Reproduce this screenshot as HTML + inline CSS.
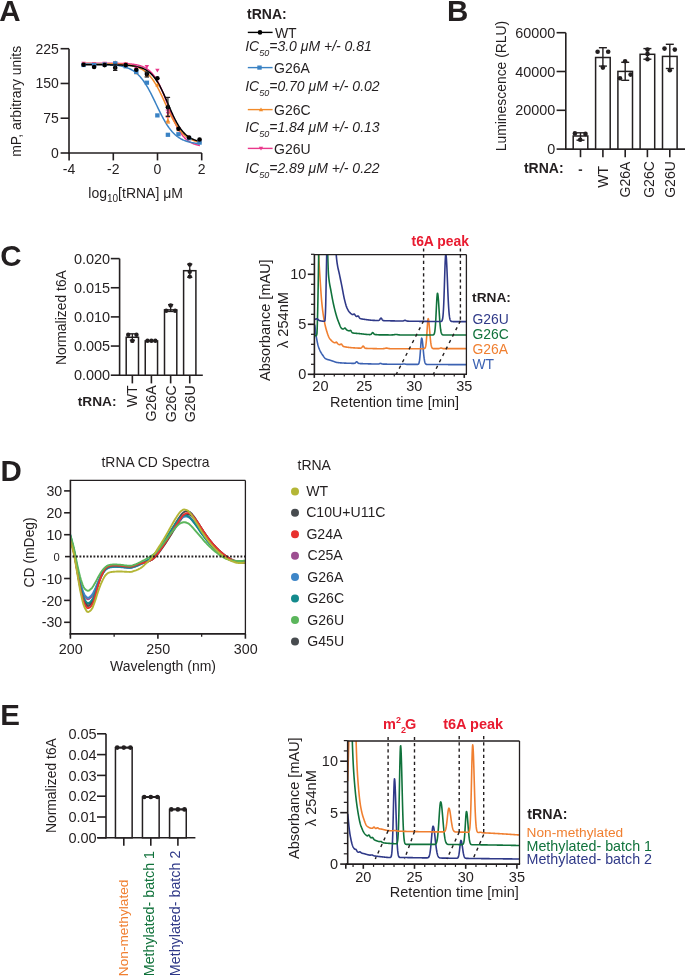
<!DOCTYPE html>
<html><head><meta charset="utf-8"><style>
html,body{margin:0;padding:0;background:#fff;}
svg{display:block;will-change:transform;font-family:"Liberation Sans", sans-serif;fill:#231f20;}
</style></head><body>
<svg width="685" height="976" viewBox="0 0 685 976">
<rect width="685" height="976" fill="#fff"/>
<text x="-0.70" y="20.70" font-size="29.5" font-weight="bold" >A</text>
<line x1="69.00" y1="48.70" x2="69.00" y2="153.80" stroke="#231f20" stroke-width="1.6" />
<line x1="68.20" y1="153.00" x2="201.80" y2="153.00" stroke="#231f20" stroke-width="1.6" />
<line x1="60.60" y1="153.00" x2="69.00" y2="153.00" stroke="#231f20" stroke-width="1.6" />
<text x="58.80" y="158.00" font-size="14" text-anchor="end" >0</text>
<line x1="60.60" y1="118.23" x2="69.00" y2="118.23" stroke="#231f20" stroke-width="1.6" />
<text x="58.80" y="123.23" font-size="14" text-anchor="end" >75</text>
<line x1="60.60" y1="83.47" x2="69.00" y2="83.47" stroke="#231f20" stroke-width="1.6" />
<text x="58.80" y="88.47" font-size="14" text-anchor="end" >150</text>
<line x1="60.60" y1="48.70" x2="69.00" y2="48.70" stroke="#231f20" stroke-width="1.6" />
<text x="58.80" y="53.70" font-size="14" text-anchor="end" >225</text>
<line x1="69.10" y1="153.00" x2="69.10" y2="160.40" stroke="#231f20" stroke-width="1.6" />
<text x="69.10" y="174.30" font-size="14" text-anchor="middle" >-4</text>
<line x1="113.30" y1="153.00" x2="113.30" y2="160.40" stroke="#231f20" stroke-width="1.6" />
<text x="113.30" y="174.30" font-size="14" text-anchor="middle" >-2</text>
<line x1="157.50" y1="153.00" x2="157.50" y2="160.40" stroke="#231f20" stroke-width="1.6" />
<text x="157.50" y="174.30" font-size="14" text-anchor="middle" >0</text>
<line x1="201.70" y1="153.00" x2="201.70" y2="160.40" stroke="#231f20" stroke-width="1.6" />
<text x="201.70" y="174.30" font-size="14" text-anchor="middle" >2</text>
<text transform="translate(20.60,101.30) rotate(-90)" font-size="13.9" text-anchor="middle" >mP, arbitrary units</text>
<text x="88.30" y="198.20" font-size="14" >log<tspan font-size="10" dy="3.4">10</tspan><tspan dy="-3.4">[tRNA] μM</tspan></text>
<path d="M81.92,63.20 L82.41,63.20 L82.90,63.20 L83.39,63.20 L83.88,63.20 L84.38,63.20 L84.87,63.20 L85.36,63.20 L85.85,63.20 L86.34,63.20 L86.84,63.20 L87.33,63.20 L87.82,63.20 L88.31,63.20 L88.80,63.20 L89.29,63.20 L89.79,63.20 L90.28,63.21 L90.77,63.21 L91.26,63.21 L91.75,63.21 L92.24,63.21 L92.74,63.21 L93.23,63.21 L93.72,63.21 L94.21,63.21 L94.70,63.21 L95.19,63.21 L95.69,63.21 L96.18,63.21 L96.67,63.21 L97.16,63.21 L97.65,63.21 L98.14,63.21 L98.64,63.21 L99.13,63.22 L99.62,63.22 L100.11,63.22 L100.60,63.22 L101.10,63.22 L101.59,63.22 L102.08,63.22 L102.57,63.22 L103.06,63.23 L103.55,63.23 L104.05,63.23 L104.54,63.23 L105.03,63.23 L105.52,63.23 L106.01,63.24 L106.50,63.24 L107.00,63.24 L107.49,63.24 L107.98,63.25 L108.47,63.25 L108.96,63.25 L109.45,63.26 L109.95,63.26 L110.44,63.26 L110.93,63.27 L111.42,63.27 L111.91,63.28 L112.40,63.28 L112.90,63.29 L113.39,63.29 L113.88,63.30 L114.37,63.30 L114.86,63.31 L115.36,63.32 L115.85,63.32 L116.34,63.33 L116.83,63.34 L117.32,63.35 L117.81,63.36 L118.31,63.37 L118.80,63.38 L119.29,63.39 L119.78,63.40 L120.27,63.42 L120.76,63.43 L121.26,63.45 L121.75,63.46 L122.24,63.48 L122.73,63.49 L123.22,63.51 L123.71,63.53 L124.21,63.55 L124.70,63.58 L125.19,63.60 L125.68,63.63 L126.17,63.65 L126.66,63.68 L127.16,63.71 L127.65,63.74 L128.14,63.78 L128.63,63.81 L129.12,63.85 L129.62,63.89 L130.11,63.94 L130.60,63.98 L131.09,64.03 L131.58,64.09 L132.07,64.14 L132.57,64.20 L133.06,64.26 L133.55,64.33 L134.04,64.40 L134.53,64.47 L135.02,64.55 L135.52,64.64 L136.01,64.73 L136.50,64.82 L136.99,64.92 L137.48,65.03 L137.97,65.14 L138.47,65.26 L138.96,65.39 L139.45,65.53 L139.94,65.67 L140.43,65.82 L140.93,65.98 L141.42,66.15 L141.91,66.33 L142.40,66.52 L142.89,66.73 L143.38,66.94 L143.88,67.17 L144.37,67.41 L144.86,67.66 L145.35,67.92 L145.84,68.21 L146.33,68.50 L146.83,68.82 L147.32,69.15 L147.81,69.50 L148.30,69.86 L148.79,70.25 L149.28,70.66 L149.78,71.09 L150.27,71.54 L150.76,72.01 L151.25,72.51 L151.74,73.03 L152.23,73.57 L152.73,74.15 L153.22,74.74 L153.71,75.37 L154.20,76.02 L154.69,76.71 L155.19,77.42 L155.68,78.16 L156.17,78.93 L156.66,79.73 L157.15,80.56 L157.64,81.42 L158.14,82.31 L158.63,83.23 L159.12,84.19 L159.61,85.17 L160.10,86.18 L160.59,87.22 L161.09,88.29 L161.58,89.38 L162.07,90.50 L162.56,91.64 L163.05,92.81 L163.54,94.00 L164.04,95.20 L164.53,96.43 L165.02,97.67 L165.51,98.92 L166.00,100.19 L166.49,101.46 L166.99,102.74 L167.48,104.03 L167.97,105.32 L168.46,106.60 L168.95,107.89 L169.45,109.17 L169.94,110.44 L170.43,111.70 L170.92,112.95 L171.41,114.19 L171.90,115.41 L172.40,116.61 L172.89,117.79 L173.38,118.95 L173.87,120.08 L174.36,121.19 L174.85,122.28 L175.35,123.33 L175.84,124.36 L176.33,125.37 L176.82,126.34 L177.31,127.28 L177.80,128.19 L178.30,129.07 L178.79,129.92 L179.28,130.74 L179.77,131.54 L180.26,132.30 L180.75,133.03 L181.25,133.73 L181.74,134.40 L182.23,135.04 L182.72,135.66 L183.21,136.25 L183.71,136.81 L184.20,137.35 L184.69,137.86 L185.18,138.35 L185.67,138.82 L186.16,139.26 L186.66,139.68 L187.15,140.08 L187.64,140.46 L188.13,140.82 L188.62,141.17 L189.11,141.49 L189.61,141.80 L190.10,142.09 L190.59,142.37 L191.08,142.63 L191.57,142.88 L192.06,143.11 L192.56,143.33 L193.05,143.54 L193.54,143.74 L194.03,143.93 L194.52,144.10 L195.01,144.27 L195.51,144.43 L196.00,144.58 L196.49,144.72 L196.98,144.85 L197.47,144.98 L197.97,145.09 L198.46,145.21 L198.95,145.31 L199.44,145.41 L199.93,145.50" fill="none" stroke="#e9388b" stroke-width="1.5" stroke-linejoin="round" />
<path d="M81.92,63.61 L82.41,63.61 L82.90,63.61 L83.39,63.61 L83.88,63.61 L84.38,63.61 L84.87,63.61 L85.36,63.61 L85.85,63.61 L86.34,63.61 L86.84,63.61 L87.33,63.62 L87.82,63.62 L88.31,63.62 L88.80,63.62 L89.29,63.62 L89.79,63.62 L90.28,63.62 L90.77,63.62 L91.26,63.62 L91.75,63.63 L92.24,63.63 L92.74,63.63 L93.23,63.63 L93.72,63.63 L94.21,63.63 L94.70,63.63 L95.19,63.64 L95.69,63.64 L96.18,63.64 L96.67,63.64 L97.16,63.65 L97.65,63.65 L98.14,63.65 L98.64,63.65 L99.13,63.66 L99.62,63.66 L100.11,63.66 L100.60,63.67 L101.10,63.67 L101.59,63.67 L102.08,63.68 L102.57,63.68 L103.06,63.69 L103.55,63.69 L104.05,63.70 L104.54,63.70 L105.03,63.71 L105.52,63.71 L106.01,63.72 L106.50,63.73 L107.00,63.73 L107.49,63.74 L107.98,63.75 L108.47,63.76 L108.96,63.77 L109.45,63.78 L109.95,63.78 L110.44,63.80 L110.93,63.81 L111.42,63.82 L111.91,63.83 L112.40,63.84 L112.90,63.86 L113.39,63.87 L113.88,63.88 L114.37,63.90 L114.86,63.92 L115.36,63.93 L115.85,63.95 L116.34,63.97 L116.83,63.99 L117.32,64.01 L117.81,64.04 L118.31,64.06 L118.80,64.09 L119.29,64.11 L119.78,64.14 L120.27,64.17 L120.76,64.20 L121.26,64.23 L121.75,64.27 L122.24,64.30 L122.73,64.34 L123.22,64.38 L123.71,64.43 L124.21,64.47 L124.70,64.52 L125.19,64.57 L125.68,64.62 L126.17,64.68 L126.66,64.74 L127.16,64.80 L127.65,64.86 L128.14,64.93 L128.63,65.01 L129.12,65.08 L129.62,65.16 L130.11,65.25 L130.60,65.34 L131.09,65.43 L131.58,65.53 L132.07,65.63 L132.57,65.74 L133.06,65.86 L133.55,65.98 L134.04,66.11 L134.53,66.24 L135.02,66.38 L135.52,66.53 L136.01,66.68 L136.50,66.85 L136.99,67.02 L137.48,67.20 L137.97,67.39 L138.47,67.59 L138.96,67.80 L139.45,68.02 L139.94,68.25 L140.43,68.49 L140.93,68.74 L141.42,69.01 L141.91,69.28 L142.40,69.57 L142.89,69.88 L143.38,70.20 L143.88,70.53 L144.37,70.88 L144.86,71.24 L145.35,71.62 L145.84,72.02 L146.33,72.43 L146.83,72.87 L147.32,73.32 L147.81,73.79 L148.30,74.27 L148.79,74.78 L149.28,75.31 L149.78,75.86 L150.27,76.43 L150.76,77.02 L151.25,77.63 L151.74,78.26 L152.23,78.92 L152.73,79.60 L153.22,80.30 L153.71,81.02 L154.20,81.77 L154.69,82.54 L155.19,83.33 L155.68,84.14 L156.17,84.97 L156.66,85.82 L157.15,86.70 L157.64,87.60 L158.14,88.51 L158.63,89.45 L159.12,90.40 L159.61,91.37 L160.10,92.35 L160.59,93.35 L161.09,94.37 L161.58,95.40 L162.07,96.44 L162.56,97.49 L163.05,98.55 L163.54,99.61 L164.04,100.68 L164.53,101.76 L165.02,102.84 L165.51,103.92 L166.00,105.00 L166.49,106.08 L166.99,107.16 L167.48,108.23 L167.97,109.29 L168.46,110.35 L168.95,111.40 L169.45,112.43 L169.94,113.46 L170.43,114.47 L170.92,115.47 L171.41,116.45 L171.90,117.42 L172.40,118.37 L172.89,119.30 L173.38,120.21 L173.87,121.10 L174.36,121.97 L174.85,122.82 L175.35,123.65 L175.84,124.45 L176.33,125.24 L176.82,126.00 L177.31,126.74 L177.80,127.46 L178.30,128.16 L178.79,128.83 L179.28,129.48 L179.77,130.11 L180.26,130.72 L180.75,131.30 L181.25,131.87 L181.74,132.41 L182.23,132.93 L182.72,133.44 L183.21,133.92 L183.71,134.39 L184.20,134.83 L184.69,135.26 L185.18,135.67 L185.67,136.06 L186.16,136.44 L186.66,136.80 L187.15,137.15 L187.64,137.48 L188.13,137.79 L188.62,138.09 L189.11,138.38 L189.61,138.65 L190.10,138.92 L190.59,139.17 L191.08,139.41 L191.57,139.63 L192.06,139.85 L192.56,140.06 L193.05,140.25 L193.54,140.44 L194.03,140.62 L194.52,140.79 L195.01,140.95 L195.51,141.11 L196.00,141.25 L196.49,141.39 L196.98,141.52 L197.47,141.65 L197.97,141.77 L198.46,141.88 L198.95,141.99 L199.44,142.09 L199.93,142.19" fill="none" stroke="#f28b2a" stroke-width="1.5" stroke-linejoin="round" />
<path d="M81.92,64.04 L82.41,64.04 L82.90,64.04 L83.39,64.04 L83.88,64.04 L84.38,64.05 L84.87,64.05 L85.36,64.05 L85.85,64.05 L86.34,64.06 L86.84,64.06 L87.33,64.06 L87.82,64.06 L88.31,64.07 L88.80,64.07 L89.29,64.08 L89.79,64.08 L90.28,64.08 L90.77,64.09 L91.26,64.09 L91.75,64.10 L92.24,64.10 L92.74,64.11 L93.23,64.11 L93.72,64.12 L94.21,64.13 L94.70,64.13 L95.19,64.14 L95.69,64.15 L96.18,64.15 L96.67,64.16 L97.16,64.17 L97.65,64.18 L98.14,64.19 L98.64,64.20 L99.13,64.21 L99.62,64.22 L100.11,64.23 L100.60,64.25 L101.10,64.26 L101.59,64.27 L102.08,64.29 L102.57,64.30 L103.06,64.32 L103.55,64.33 L104.05,64.35 L104.54,64.37 L105.03,64.39 L105.52,64.41 L106.01,64.43 L106.50,64.45 L107.00,64.48 L107.49,64.50 L107.98,64.53 L108.47,64.55 L108.96,64.58 L109.45,64.61 L109.95,64.65 L110.44,64.68 L110.93,64.72 L111.42,64.75 L111.91,64.79 L112.40,64.83 L112.90,64.88 L113.39,64.92 L113.88,64.97 L114.37,65.02 L114.86,65.07 L115.36,65.13 L115.85,65.19 L116.34,65.25 L116.83,65.31 L117.32,65.38 L117.81,65.45 L118.31,65.53 L118.80,65.61 L119.29,65.69 L119.78,65.78 L120.27,65.87 L120.76,65.96 L121.26,66.06 L121.75,66.17 L122.24,66.28 L122.73,66.40 L123.22,66.52 L123.71,66.65 L124.21,66.78 L124.70,66.92 L125.19,67.07 L125.68,67.22 L126.17,67.39 L126.66,67.56 L127.16,67.73 L127.65,67.92 L128.14,68.12 L128.63,68.32 L129.12,68.54 L129.62,68.76 L130.11,68.99 L130.60,69.24 L131.09,69.50 L131.58,69.76 L132.07,70.04 L132.57,70.34 L133.06,70.64 L133.55,70.96 L134.04,71.30 L134.53,71.64 L135.02,72.00 L135.52,72.38 L136.01,72.77 L136.50,73.18 L136.99,73.61 L137.48,74.05 L137.97,74.51 L138.47,74.99 L138.96,75.48 L139.45,75.99 L139.94,76.53 L140.43,77.08 L140.93,77.65 L141.42,78.24 L141.91,78.85 L142.40,79.48 L142.89,80.13 L143.38,80.80 L143.88,81.49 L144.37,82.21 L144.86,82.94 L145.35,83.69 L145.84,84.46 L146.33,85.25 L146.83,86.06 L147.32,86.89 L147.81,87.74 L148.30,88.61 L148.79,89.49 L149.28,90.39 L149.78,91.31 L150.27,92.24 L150.76,93.19 L151.25,94.15 L151.74,95.12 L152.23,96.10 L152.73,97.10 L153.22,98.10 L153.71,99.11 L154.20,100.13 L154.69,101.15 L155.19,102.18 L155.68,103.21 L156.17,104.24 L156.66,105.27 L157.15,106.30 L157.64,107.33 L158.14,108.35 L158.63,109.37 L159.12,110.38 L159.61,111.38 L160.10,112.37 L160.59,113.36 L161.09,114.33 L161.58,115.29 L162.07,116.24 L162.56,117.17 L163.05,118.09 L163.54,118.99 L164.04,119.87 L164.53,120.74 L165.02,121.59 L165.51,122.42 L166.00,123.23 L166.49,124.02 L166.99,124.79 L167.48,125.55 L167.97,126.28 L168.46,126.99 L168.95,127.68 L169.45,128.35 L169.94,129.00 L170.43,129.64 L170.92,130.25 L171.41,130.84 L171.90,131.41 L172.40,131.96 L172.89,132.49 L173.38,133.01 L173.87,133.50 L174.36,133.98 L174.85,134.44 L175.35,134.88 L175.84,135.31 L176.33,135.72 L176.82,136.11 L177.31,136.49 L177.80,136.85 L178.30,137.20 L178.79,137.53 L179.28,137.85 L179.77,138.16 L180.26,138.45 L180.75,138.73 L181.25,139.00 L181.74,139.25 L182.23,139.50 L182.72,139.74 L183.21,139.96 L183.71,140.17 L184.20,140.38 L184.69,140.58 L185.18,140.76 L185.67,140.94 L186.16,141.11 L186.66,141.27 L187.15,141.43 L187.64,141.58 L188.13,141.72 L188.62,141.85 L189.11,141.98 L189.61,142.10 L190.10,142.22 L190.59,142.33 L191.08,142.43 L191.57,142.54 L192.06,142.63 L192.56,142.72 L193.05,142.81 L193.54,142.89 L194.03,142.97 L194.52,143.05 L195.01,143.12 L195.51,143.19 L196.00,143.25 L196.49,143.31 L196.98,143.37 L197.47,143.43 L197.97,143.48 L198.46,143.53 L198.95,143.58 L199.44,143.62 L199.93,143.67" fill="none" stroke="#3a82c4" stroke-width="1.5" stroke-linejoin="round" />
<path d="M81.92,64.80 L82.41,64.80 L82.90,64.80 L83.39,64.80 L83.88,64.80 L84.38,64.80 L84.87,64.80 L85.36,64.80 L85.85,64.80 L86.34,64.80 L86.84,64.80 L87.33,64.80 L87.82,64.81 L88.31,64.81 L88.80,64.81 L89.29,64.81 L89.79,64.81 L90.28,64.81 L90.77,64.81 L91.26,64.81 L91.75,64.81 L92.24,64.81 L92.74,64.81 L93.23,64.81 L93.72,64.81 L94.21,64.81 L94.70,64.81 L95.19,64.81 L95.69,64.81 L96.18,64.81 L96.67,64.82 L97.16,64.82 L97.65,64.82 L98.14,64.82 L98.64,64.82 L99.13,64.82 L99.62,64.82 L100.11,64.82 L100.60,64.82 L101.10,64.83 L101.59,64.83 L102.08,64.83 L102.57,64.83 L103.06,64.83 L103.55,64.83 L104.05,64.84 L104.54,64.84 L105.03,64.84 L105.52,64.84 L106.01,64.85 L106.50,64.85 L107.00,64.85 L107.49,64.86 L107.98,64.86 L108.47,64.86 L108.96,64.87 L109.45,64.87 L109.95,64.87 L110.44,64.88 L110.93,64.88 L111.42,64.89 L111.91,64.89 L112.40,64.90 L112.90,64.91 L113.39,64.91 L113.88,64.92 L114.37,64.93 L114.86,64.93 L115.36,64.94 L115.85,64.95 L116.34,64.96 L116.83,64.97 L117.32,64.98 L117.81,64.99 L118.31,65.00 L118.80,65.01 L119.29,65.03 L119.78,65.04 L120.27,65.05 L120.76,65.07 L121.26,65.09 L121.75,65.10 L122.24,65.12 L122.73,65.14 L123.22,65.16 L123.71,65.18 L124.21,65.21 L124.70,65.23 L125.19,65.26 L125.68,65.29 L126.17,65.31 L126.66,65.35 L127.16,65.38 L127.65,65.41 L128.14,65.45 L128.63,65.49 L129.12,65.53 L129.62,65.58 L130.11,65.62 L130.60,65.67 L131.09,65.72 L131.58,65.78 L132.07,65.84 L132.57,65.90 L133.06,65.96 L133.55,66.03 L134.04,66.11 L134.53,66.19 L135.02,66.27 L135.52,66.36 L136.01,66.45 L136.50,66.55 L136.99,66.65 L137.48,66.76 L137.97,66.87 L138.47,67.00 L138.96,67.13 L139.45,67.26 L139.94,67.41 L140.43,67.56 L140.93,67.72 L141.42,67.89 L141.91,68.07 L142.40,68.26 L142.89,68.46 L143.38,68.67 L143.88,68.90 L144.37,69.13 L144.86,69.38 L145.35,69.64 L145.84,69.91 L146.33,70.20 L146.83,70.51 L147.32,70.83 L147.81,71.16 L148.30,71.51 L148.79,71.88 L149.28,72.27 L149.78,72.68 L150.27,73.11 L150.76,73.56 L151.25,74.03 L151.74,74.52 L152.23,75.03 L152.73,75.56 L153.22,76.12 L153.71,76.70 L154.20,77.31 L154.69,77.94 L155.19,78.60 L155.68,79.28 L156.17,79.99 L156.66,80.72 L157.15,81.48 L157.64,82.27 L158.14,83.08 L158.63,83.92 L159.12,84.79 L159.61,85.67 L160.10,86.59 L160.59,87.53 L161.09,88.49 L161.58,89.47 L162.07,90.48 L162.56,91.50 L163.05,92.55 L163.54,93.61 L164.04,94.69 L164.53,95.79 L165.02,96.90 L165.51,98.02 L166.00,99.15 L166.49,100.29 L166.99,101.43 L167.48,102.58 L167.97,103.73 L168.46,104.88 L168.95,106.03 L169.45,107.18 L169.94,108.32 L170.43,109.45 L170.92,110.58 L171.41,111.69 L171.90,112.79 L172.40,113.87 L172.89,114.94 L173.38,115.99 L173.87,117.02 L174.36,118.04 L174.85,119.03 L175.35,119.99 L175.84,120.94 L176.33,121.86 L176.82,122.76 L177.31,123.63 L177.80,124.47 L178.30,125.29 L178.79,126.09 L179.28,126.86 L179.77,127.60 L180.26,128.31 L180.75,129.00 L181.25,129.67 L181.74,130.31 L182.23,130.92 L182.72,131.51 L183.21,132.08 L183.71,132.62 L184.20,133.14 L184.69,133.63 L185.18,134.11 L185.67,134.56 L186.16,135.00 L186.66,135.41 L187.15,135.80 L187.64,136.18 L188.13,136.54 L188.62,136.88 L189.11,137.20 L189.61,137.51 L190.10,137.80 L190.59,138.08 L191.08,138.35 L191.57,138.60 L192.06,138.84 L192.56,139.06 L193.05,139.28 L193.54,139.48 L194.03,139.67 L194.52,139.86 L195.01,140.03 L195.51,140.19 L196.00,140.35 L196.49,140.50 L196.98,140.63 L197.47,140.77 L197.97,140.89 L198.46,141.01 L198.95,141.12 L199.44,141.22 L199.93,141.32" fill="none" stroke="#000000" stroke-width="1.5" stroke-linejoin="round" />
<line x1="167.92" y1="110.00" x2="167.92" y2="117.00" stroke="#e9388b" stroke-width="1.2" />
<line x1="165.72" y1="110.00" x2="170.12" y2="110.00" stroke="#e9388b" stroke-width="1.2" />
<line x1="165.72" y1="117.00" x2="170.12" y2="117.00" stroke="#e9388b" stroke-width="1.2" />
<line x1="167.92" y1="116.00" x2="167.92" y2="123.00" stroke="#f28b2a" stroke-width="1.2" />
<line x1="165.72" y1="116.00" x2="170.12" y2="116.00" stroke="#f28b2a" stroke-width="1.2" />
<line x1="165.72" y1="123.00" x2="170.12" y2="123.00" stroke="#f28b2a" stroke-width="1.2" />
<path d="M81.37,61.80 L85.77,61.80 L83.57,65.70 Z" fill="#e9388b"/>
<path d="M91.92,62.30 L96.32,62.30 L94.12,66.20 Z" fill="#e9388b"/>
<path d="M102.46,61.80 L106.86,61.80 L104.66,65.70 Z" fill="#e9388b"/>
<path d="M113.01,61.80 L117.41,61.80 L115.21,65.70 Z" fill="#e9388b"/>
<path d="M123.55,62.30 L127.95,62.30 L125.75,66.20 Z" fill="#e9388b"/>
<path d="M134.09,66.80 L138.49,66.80 L136.29,70.70 Z" fill="#e9388b"/>
<path d="M144.64,65.10 L149.04,65.10 L146.84,69.00 Z" fill="#e9388b"/>
<path d="M155.18,68.70 L159.58,68.70 L157.38,72.60 Z" fill="#e9388b"/>
<path d="M165.72,111.70 L170.12,111.70 L167.92,115.60 Z" fill="#e9388b"/>
<path d="M176.27,127.30 L180.67,127.30 L178.47,131.20 Z" fill="#e9388b"/>
<path d="M186.81,136.30 L191.21,136.30 L189.01,140.20 Z" fill="#e9388b"/>
<path d="M197.36,140.30 L201.76,140.30 L199.56,144.20 Z" fill="#e9388b"/>
<path d="M81.37,65.70 L85.77,65.70 L83.57,61.80 Z" fill="#f28b2a"/>
<path d="M91.92,65.70 L96.32,65.70 L94.12,61.80 Z" fill="#f28b2a"/>
<path d="M102.46,65.70 L106.86,65.70 L104.66,61.80 Z" fill="#f28b2a"/>
<path d="M113.01,64.20 L117.41,64.20 L115.21,60.30 Z" fill="#f28b2a"/>
<path d="M123.55,65.70 L127.95,65.70 L125.75,61.80 Z" fill="#f28b2a"/>
<path d="M134.09,74.20 L138.49,74.20 L136.29,70.30 Z" fill="#f28b2a"/>
<path d="M144.64,76.70 L149.04,76.70 L146.84,72.80 Z" fill="#f28b2a"/>
<path d="M155.18,86.40 L159.58,86.40 L157.38,82.50 Z" fill="#f28b2a"/>
<path d="M165.72,122.20 L170.12,122.20 L167.92,118.30 Z" fill="#f28b2a"/>
<path d="M176.27,131.20 L180.67,131.20 L178.47,127.30 Z" fill="#f28b2a"/>
<path d="M186.81,138.70 L191.21,138.70 L189.01,134.80 Z" fill="#f28b2a"/>
<path d="M197.36,142.70 L201.76,142.70 L199.56,138.80 Z" fill="#f28b2a"/>
<rect x="81.37" y="62.90" width="4.4" height="4.2" fill="#3a82c4"/>
<rect x="91.92" y="62.90" width="4.4" height="4.2" fill="#3a82c4"/>
<rect x="102.46" y="62.40" width="4.4" height="4.2" fill="#3a82c4"/>
<rect x="113.01" y="61.20" width="4.4" height="4.2" fill="#3a82c4"/>
<rect x="123.55" y="64.20" width="4.4" height="4.2" fill="#3a82c4"/>
<rect x="134.09" y="69.90" width="4.4" height="4.2" fill="#3a82c4"/>
<rect x="144.64" y="80.60" width="4.4" height="4.2" fill="#3a82c4"/>
<rect x="155.18" y="113.30" width="4.4" height="4.2" fill="#3a82c4"/>
<rect x="165.72" y="132.70" width="4.4" height="4.2" fill="#3a82c4"/>
<rect x="176.27" y="132.10" width="4.4" height="4.2" fill="#3a82c4"/>
<rect x="186.81" y="136.20" width="4.4" height="4.2" fill="#3a82c4"/>
<rect x="197.36" y="140.50" width="4.4" height="4.2" fill="#3a82c4"/>
<circle cx="83.57" cy="64.70" r="2.3" fill="#000000"/>
<circle cx="94.12" cy="67.00" r="2.3" fill="#000000"/>
<circle cx="104.66" cy="65.10" r="2.3" fill="#000000"/>
<circle cx="115.21" cy="67.80" r="2.3" fill="#000000"/>
<circle cx="125.75" cy="65.10" r="2.3" fill="#000000"/>
<circle cx="136.29" cy="69.80" r="2.3" fill="#000000"/>
<circle cx="146.84" cy="74.10" r="2.3" fill="#000000"/>
<circle cx="157.38" cy="78.20" r="2.3" fill="#000000"/>
<circle cx="167.92" cy="107.20" r="2.3" fill="#000000"/>
<circle cx="178.47" cy="128.70" r="2.3" fill="#000000"/>
<circle cx="189.01" cy="137.50" r="2.3" fill="#000000"/>
<circle cx="199.56" cy="139.50" r="2.3" fill="#000000"/>
<line x1="115.21" y1="64.30" x2="115.21" y2="70.40" stroke="#231f20" stroke-width="1.2" />
<line x1="113.01" y1="64.30" x2="117.41" y2="64.30" stroke="#231f20" stroke-width="1.2" />
<line x1="113.01" y1="70.40" x2="117.41" y2="70.40" stroke="#231f20" stroke-width="1.2" />
<line x1="146.84" y1="72.00" x2="146.84" y2="77.00" stroke="#231f20" stroke-width="1.2" />
<line x1="144.64" y1="72.00" x2="149.04" y2="72.00" stroke="#231f20" stroke-width="1.2" />
<line x1="144.64" y1="77.00" x2="149.04" y2="77.00" stroke="#231f20" stroke-width="1.2" />
<line x1="167.92" y1="97.40" x2="167.92" y2="116.40" stroke="#231f20" stroke-width="1.2" />
<line x1="165.72" y1="97.40" x2="170.12" y2="97.40" stroke="#231f20" stroke-width="1.2" />
<line x1="165.72" y1="116.40" x2="170.12" y2="116.40" stroke="#231f20" stroke-width="1.2" />
<text x="247.00" y="19.40" font-size="14" font-weight="bold" >tRNA:</text>
<line x1="247.80" y1="32.40" x2="272.60" y2="32.40" stroke="#000000" stroke-width="1.4" />
<circle cx="260.00" cy="32.40" r="2.3" fill="#000000"/>
<text x="274.90" y="37.80" font-size="14" >WT</text>
<line x1="247.80" y1="67.60" x2="272.60" y2="67.60" stroke="#3a82c4" stroke-width="1.4" />
<rect x="257.30" y="65.50" width="4.4" height="4.2" fill="#3a82c4"/>
<text x="274.00" y="73.00" font-size="14" >G26A</text>
<line x1="247.80" y1="109.60" x2="272.60" y2="109.60" stroke="#f28b2a" stroke-width="1.4" />
<path d="M258.80,111.30 L263.20,111.30 L261.00,107.40 Z" fill="#f28b2a"/>
<text x="274.00" y="114.90" font-size="14" >G26C</text>
<line x1="247.80" y1="148.40" x2="272.60" y2="148.40" stroke="#e9388b" stroke-width="1.4" />
<path d="M258.80,146.70 L263.20,146.70 L261.00,150.60 Z" fill="#e9388b"/>
<text x="274.00" y="153.80" font-size="14" >G26U</text>
<text x="245.20" y="50.70" font-size="14" font-style="italic" >IC<tspan font-size="9" dy="5">50</tspan><tspan dy="-5">=3.0 μM +/- 0.81</tspan></text>
<text x="245.20" y="90.50" font-size="14" font-style="italic" >IC<tspan font-size="9" dy="5">50</tspan><tspan dy="-5">=0.70 μM +/- 0.02</tspan></text>
<text x="245.20" y="131.90" font-size="14" font-style="italic" >IC<tspan font-size="9" dy="5">50</tspan><tspan dy="-5">=1.84 μM +/- 0.13</tspan></text>
<text x="245.20" y="172.80" font-size="14" font-style="italic" >IC<tspan font-size="9" dy="5">50</tspan><tspan dy="-5">=2.89 μM +/- 0.22</tspan></text>
<text x="447.10" y="20.70" font-size="29.5" font-weight="bold" >B</text>
<line x1="565.80" y1="32.70" x2="565.80" y2="149.90" stroke="#231f20" stroke-width="1.6" />
<line x1="565.00" y1="149.10" x2="685.00" y2="149.10" stroke="#231f20" stroke-width="1.6" />
<line x1="556.60" y1="149.10" x2="565.80" y2="149.10" stroke="#231f20" stroke-width="1.6" />
<text x="555.30" y="154.20" font-size="14.4" text-anchor="end" >0</text>
<line x1="556.60" y1="110.30" x2="565.80" y2="110.30" stroke="#231f20" stroke-width="1.6" />
<text x="555.30" y="115.40" font-size="14.4" text-anchor="end" >20000</text>
<line x1="556.60" y1="71.50" x2="565.80" y2="71.50" stroke="#231f20" stroke-width="1.6" />
<text x="555.30" y="76.60" font-size="14.4" text-anchor="end" >40000</text>
<line x1="556.60" y1="32.70" x2="565.80" y2="32.70" stroke="#231f20" stroke-width="1.6" />
<text x="555.30" y="37.80" font-size="14.4" text-anchor="end" >60000</text>
<text transform="translate(506.00,86.00) rotate(-90)" font-size="13.9" text-anchor="middle" >Luminescence (RLU)</text>
<rect x="573.20" y="136.00" width="14.60" height="13.10" fill="#fff" stroke="#231f20" stroke-width="1.5"/>
<line x1="580.50" y1="149.10" x2="580.50" y2="157.20" stroke="#231f20" stroke-width="1.6" />
<rect x="595.60" y="57.50" width="14.60" height="91.60" fill="#fff" stroke="#231f20" stroke-width="1.5"/>
<line x1="602.90" y1="149.10" x2="602.90" y2="157.20" stroke="#231f20" stroke-width="1.6" />
<rect x="617.90" y="71.40" width="14.60" height="77.70" fill="#fff" stroke="#231f20" stroke-width="1.5"/>
<line x1="625.20" y1="149.10" x2="625.20" y2="157.20" stroke="#231f20" stroke-width="1.6" />
<rect x="640.10" y="54.30" width="14.60" height="94.80" fill="#fff" stroke="#231f20" stroke-width="1.5"/>
<line x1="647.40" y1="149.10" x2="647.40" y2="157.20" stroke="#231f20" stroke-width="1.6" />
<rect x="662.50" y="56.40" width="14.60" height="92.70" fill="#fff" stroke="#231f20" stroke-width="1.5"/>
<line x1="669.80" y1="149.10" x2="669.80" y2="157.20" stroke="#231f20" stroke-width="1.6" />
<line x1="580.50" y1="132.80" x2="580.50" y2="140.20" stroke="#231f20" stroke-width="1.4" />
<line x1="576.50" y1="132.80" x2="584.50" y2="132.80" stroke="#231f20" stroke-width="1.4" />
<line x1="576.50" y1="140.20" x2="584.50" y2="140.20" stroke="#231f20" stroke-width="1.4" />
<line x1="602.90" y1="47.70" x2="602.90" y2="66.10" stroke="#231f20" stroke-width="1.4" />
<line x1="598.90" y1="47.70" x2="606.90" y2="47.70" stroke="#231f20" stroke-width="1.4" />
<line x1="598.90" y1="66.10" x2="606.90" y2="66.10" stroke="#231f20" stroke-width="1.4" />
<line x1="625.20" y1="62.30" x2="625.20" y2="80.30" stroke="#231f20" stroke-width="1.4" />
<line x1="621.20" y1="62.30" x2="629.20" y2="62.30" stroke="#231f20" stroke-width="1.4" />
<line x1="621.20" y1="80.30" x2="629.20" y2="80.30" stroke="#231f20" stroke-width="1.4" />
<line x1="647.40" y1="48.60" x2="647.40" y2="59.20" stroke="#231f20" stroke-width="1.4" />
<line x1="643.40" y1="48.60" x2="651.40" y2="48.60" stroke="#231f20" stroke-width="1.4" />
<line x1="643.40" y1="59.20" x2="651.40" y2="59.20" stroke="#231f20" stroke-width="1.4" />
<line x1="669.80" y1="44.30" x2="669.80" y2="68.50" stroke="#231f20" stroke-width="1.4" />
<line x1="665.80" y1="44.30" x2="673.80" y2="44.30" stroke="#231f20" stroke-width="1.4" />
<line x1="665.80" y1="68.50" x2="673.80" y2="68.50" stroke="#231f20" stroke-width="1.4" />
<circle cx="574.90" cy="133.40" r="2.3" fill="#231f20"/>
<circle cx="585.50" cy="133.90" r="2.3" fill="#231f20"/>
<circle cx="580.20" cy="139.80" r="2.3" fill="#231f20"/>
<circle cx="597.60" cy="51.80" r="2.3" fill="#231f20"/>
<circle cx="608.20" cy="51.80" r="2.3" fill="#231f20"/>
<circle cx="602.90" cy="67.60" r="2.3" fill="#231f20"/>
<circle cx="625.10" cy="61.30" r="2.3" fill="#231f20"/>
<circle cx="620.00" cy="78.20" r="2.3" fill="#231f20"/>
<circle cx="630.60" cy="74.60" r="2.3" fill="#231f20"/>
<circle cx="647.50" cy="49.60" r="2.3" fill="#231f20"/>
<circle cx="647.50" cy="53.90" r="2.3" fill="#231f20"/>
<circle cx="647.50" cy="59.20" r="2.3" fill="#231f20"/>
<circle cx="664.50" cy="48.60" r="2.3" fill="#231f20"/>
<circle cx="674.80" cy="49.60" r="2.3" fill="#231f20"/>
<circle cx="669.80" cy="70.20" r="2.3" fill="#231f20"/>
<text x="523.90" y="173.20" font-size="14" font-weight="bold" >tRNA:</text>
<rect x="578.7" y="169.4" width="3.4" height="1.5" fill="#231f20"/>
<text transform="translate(607.80,176.80) rotate(-90)" font-size="14" text-anchor="middle" >WT</text>
<text transform="translate(630.10,179.50) rotate(-90)" font-size="14" text-anchor="middle" >G26A</text>
<text transform="translate(654.10,179.50) rotate(-90)" font-size="14" text-anchor="middle" >G26C</text>
<text transform="translate(674.70,179.50) rotate(-90)" font-size="14" text-anchor="middle" >G26U</text>
<text x="0.20" y="265.50" font-size="29.5" font-weight="bold" >C</text>
<line x1="119.60" y1="258.60" x2="119.60" y2="376.00" stroke="#231f20" stroke-width="1.6" />
<line x1="118.80" y1="375.20" x2="202.80" y2="375.20" stroke="#231f20" stroke-width="1.6" />
<line x1="110.80" y1="375.20" x2="119.60" y2="375.20" stroke="#231f20" stroke-width="1.6" />
<text x="110.20" y="380.30" font-size="14.5" text-anchor="end" >0.000</text>
<line x1="110.80" y1="346.05" x2="119.60" y2="346.05" stroke="#231f20" stroke-width="1.6" />
<text x="110.20" y="351.15" font-size="14.5" text-anchor="end" >0.005</text>
<line x1="110.80" y1="316.90" x2="119.60" y2="316.90" stroke="#231f20" stroke-width="1.6" />
<text x="110.20" y="322.00" font-size="14.5" text-anchor="end" >0.010</text>
<line x1="110.80" y1="287.75" x2="119.60" y2="287.75" stroke="#231f20" stroke-width="1.6" />
<text x="110.20" y="292.85" font-size="14.5" text-anchor="end" >0.015</text>
<line x1="110.80" y1="258.60" x2="119.60" y2="258.60" stroke="#231f20" stroke-width="1.6" />
<text x="110.20" y="263.70" font-size="14.5" text-anchor="end" >0.020</text>
<text transform="translate(65.70,317.60) rotate(-90)" font-size="13.9" text-anchor="middle" >Normalized t6A</text>
<rect x="126.20" y="337.30" width="12.30" height="37.90" fill="#fff" stroke="#231f20" stroke-width="1.5"/>
<line x1="132.35" y1="375.20" x2="132.35" y2="383.40" stroke="#231f20" stroke-width="1.6" />
<rect x="145.25" y="340.90" width="12.30" height="34.30" fill="#fff" stroke="#231f20" stroke-width="1.5"/>
<line x1="151.40" y1="375.20" x2="151.40" y2="383.40" stroke="#231f20" stroke-width="1.6" />
<rect x="164.50" y="309.90" width="12.30" height="65.30" fill="#fff" stroke="#231f20" stroke-width="1.5"/>
<line x1="170.65" y1="375.20" x2="170.65" y2="383.40" stroke="#231f20" stroke-width="1.6" />
<rect x="183.60" y="270.70" width="12.30" height="104.50" fill="#fff" stroke="#231f20" stroke-width="1.5"/>
<line x1="189.75" y1="375.20" x2="189.75" y2="383.40" stroke="#231f20" stroke-width="1.6" />
<line x1="132.35" y1="333.80" x2="132.35" y2="340.20" stroke="#231f20" stroke-width="1.3" />
<line x1="129.75" y1="333.80" x2="134.95" y2="333.80" stroke="#231f20" stroke-width="1.3" />
<line x1="129.75" y1="340.20" x2="134.95" y2="340.20" stroke="#231f20" stroke-width="1.3" />
<line x1="170.65" y1="304.60" x2="170.65" y2="311.50" stroke="#231f20" stroke-width="1.3" />
<line x1="168.05" y1="304.60" x2="173.25" y2="304.60" stroke="#231f20" stroke-width="1.3" />
<line x1="168.05" y1="311.50" x2="173.25" y2="311.50" stroke="#231f20" stroke-width="1.3" />
<line x1="189.75" y1="264.10" x2="189.75" y2="277.30" stroke="#231f20" stroke-width="1.3" />
<line x1="187.15" y1="264.10" x2="192.35" y2="264.10" stroke="#231f20" stroke-width="1.3" />
<line x1="187.15" y1="277.30" x2="192.35" y2="277.30" stroke="#231f20" stroke-width="1.3" />
<circle cx="128.20" cy="334.80" r="2.2" fill="#231f20"/>
<circle cx="136.50" cy="334.80" r="2.2" fill="#231f20"/>
<circle cx="132.35" cy="340.90" r="2.2" fill="#231f20"/>
<circle cx="147.50" cy="340.80" r="2.2" fill="#231f20"/>
<circle cx="151.40" cy="340.80" r="2.2" fill="#231f20"/>
<circle cx="155.30" cy="340.80" r="2.2" fill="#231f20"/>
<circle cx="170.65" cy="305.40" r="2.2" fill="#231f20"/>
<circle cx="166.20" cy="310.80" r="2.2" fill="#231f20"/>
<circle cx="175.10" cy="310.80" r="2.2" fill="#231f20"/>
<circle cx="189.75" cy="264.60" r="2.2" fill="#231f20"/>
<circle cx="189.75" cy="271.70" r="2.2" fill="#231f20"/>
<circle cx="189.75" cy="276.60" r="2.2" fill="#231f20"/>
<text x="77.80" y="405.90" font-size="13.7" font-weight="bold" >tRNA:</text>
<text transform="translate(137.25,385.30) rotate(-90)" font-size="14.2" text-anchor="end" >WT</text>
<text transform="translate(156.30,385.30) rotate(-90)" font-size="14.2" text-anchor="end" >G26A</text>
<text transform="translate(175.55,385.30) rotate(-90)" font-size="14.2" text-anchor="end" >G26C</text>
<text transform="translate(194.65,385.30) rotate(-90)" font-size="14.2" text-anchor="end" >G26U</text>
<clipPath id="clipC"><rect x="314.4" y="254.6" width="152.0" height="119.6"/></clipPath>
<g clip-path="url(#clipC)">
<path d="M314.70,324.59 L314.95,326.14 L315.20,328.41 L315.45,330.56 L315.70,332.57 L315.95,334.40 L316.20,336.05 L316.45,337.56 L316.70,338.98 L316.95,340.33 L317.20,341.61 L317.45,342.81 L317.70,343.92 L317.95,344.95 L318.20,345.88 L318.45,346.72 L318.70,347.47 L318.95,348.15 L319.20,348.80 L319.45,349.41 L319.70,349.99 L319.95,350.53 L320.20,351.05 L320.45,351.54 L320.70,352.01 L320.95,352.46 L321.20,352.88 L321.45,353.29 L321.70,353.69 L321.95,354.08 L322.20,354.45 L322.45,354.82 L322.70,355.19 L322.95,355.55 L323.20,355.91 L323.45,356.26 L323.70,356.61 L323.95,356.94 L324.20,357.25 L324.45,357.55 L324.70,357.83 L324.95,358.09 L325.20,358.33 L325.45,358.53 L325.70,358.71 L325.95,358.87 L326.20,358.99 L326.45,359.11 L326.70,359.21 L326.95,359.30 L327.20,359.39 L327.45,359.47 L327.70,359.54 L327.95,359.61 L328.20,359.68 L328.45,359.75 L328.70,359.81 L328.95,359.88 L329.20,359.95 L329.45,360.02 L329.70,360.10 L329.95,360.18 L330.20,360.26 L330.45,360.34 L330.70,360.42 L330.95,360.51 L331.20,360.59 L331.45,360.67 L331.70,360.75 L331.95,360.83 L332.20,360.91 L332.45,360.99 L332.70,361.07 L332.95,361.15 L333.20,361.24 L333.45,361.32 L333.70,361.40 L333.95,361.49 L334.20,361.59 L334.45,361.68 L334.70,361.78 L334.95,361.88 L335.20,361.97 L335.45,362.06 L335.70,362.15 L335.95,362.23 L336.20,362.31 L336.45,362.37 L336.70,362.43 L336.95,362.47 L337.20,362.51 L337.45,362.54 L337.70,362.57 L337.95,362.60 L338.20,362.63 L338.45,362.66 L338.70,362.69 L338.95,362.71 L339.20,362.74 L339.45,362.76 L339.70,362.78 L339.95,362.81 L340.20,362.83 L340.45,362.85 L340.70,362.87 L340.95,362.89 L341.20,362.91 L341.45,362.92 L341.70,362.94 L341.95,362.96 L342.20,362.97 L342.45,362.99 L342.70,363.00 L342.95,363.02 L343.20,363.03 L343.45,363.05 L343.70,363.06 L343.95,363.07 L344.20,363.09 L344.45,363.10 L344.70,363.11 L344.95,363.12 L345.20,363.13 L345.45,363.14 L345.70,363.15 L345.95,363.16 L346.20,363.17 L346.45,363.18 L346.70,363.19 L346.95,363.20 L347.20,363.21 L347.45,363.22 L347.70,363.23 L347.95,363.24 L348.20,363.25 L348.45,363.25 L348.70,363.26 L348.95,363.27 L349.20,363.27 L349.45,363.28 L349.70,363.29 L349.95,363.29 L350.20,363.30 L350.45,363.31 L350.70,363.31 L350.95,363.32 L351.20,363.32 L351.45,363.33 L351.70,363.34 L351.95,363.34 L352.20,363.35 L352.45,363.35 L352.70,363.36 L352.95,363.37 L353.20,363.37 L353.45,363.38 L353.70,363.38 L353.95,363.37 L354.20,363.36 L354.45,363.33 L354.70,363.27 L354.95,363.16 L355.20,363.00 L355.45,362.78 L355.70,362.52 L355.95,362.25 L356.20,362.00 L356.45,361.83 L356.70,361.77 L356.95,361.84 L357.20,362.03 L357.45,362.29 L357.70,362.58 L357.95,362.86 L358.20,363.09 L358.45,363.27 L358.70,363.39 L358.95,363.46 L359.20,363.51 L359.45,363.54 L359.70,363.55 L359.95,363.57 L360.20,363.58 L360.45,363.59 L360.70,363.59 L360.95,363.60 L361.20,363.61 L361.45,363.62 L361.70,363.63 L361.95,363.63 L362.20,363.64 L362.45,363.65 L362.70,363.66 L362.95,363.67 L363.20,363.68 L363.45,363.68 L363.70,363.69 L363.95,363.70 L364.20,363.71 L364.45,363.72 L364.70,363.72 L364.95,363.73 L365.20,363.74 L365.45,363.75 L365.70,363.76 L365.95,363.76 L366.20,363.77 L366.45,363.78 L366.70,363.79 L366.95,363.80 L367.20,363.80 L367.45,363.81 L367.70,363.82 L367.95,363.83 L368.20,363.83 L368.45,363.84 L368.70,363.85 L368.95,363.86 L369.20,363.87 L369.45,363.87 L369.70,363.88 L369.95,363.89 L370.20,363.89 L370.45,363.90 L370.70,363.91 L370.95,363.92 L371.20,363.92 L371.45,363.93 L371.70,363.94 L371.95,363.94 L372.20,363.95 L372.45,363.96 L372.70,363.96 L372.95,363.97 L373.20,363.98 L373.45,363.98 L373.70,363.99 L373.95,363.99 L374.20,364.00 L374.45,364.00 L374.70,364.01 L374.95,364.02 L375.20,364.02 L375.45,364.03 L375.70,364.03 L375.95,364.04 L376.20,364.04 L376.45,364.05 L376.70,364.05 L376.95,364.05 L377.20,364.06 L377.45,364.06 L377.70,364.05 L377.95,364.05 L378.20,364.03 L378.45,363.99 L378.70,363.95 L378.95,363.88 L379.20,363.79 L379.45,363.69 L379.70,363.59 L379.95,363.50 L380.20,363.43 L380.45,363.41 L380.70,363.42 L380.95,363.48 L381.20,363.56 L381.45,363.67 L381.70,363.78 L381.95,363.88 L382.20,363.96 L382.45,364.02 L382.70,364.07 L382.95,364.10 L383.20,364.12 L383.45,364.13 L383.70,364.14 L383.95,364.14 L384.20,364.14 L384.45,364.15 L384.70,364.15 L384.95,364.15 L385.20,364.15 L385.45,364.16 L385.70,364.16 L385.95,364.16 L386.20,364.17 L386.45,364.17 L386.70,364.17 L386.95,364.17 L387.20,364.18 L387.45,364.18 L387.70,364.18 L387.95,364.18 L388.20,364.19 L388.45,364.19 L388.70,364.19 L388.95,364.19 L389.20,364.20 L389.45,364.20 L389.70,364.20 L389.95,364.20 L390.20,364.20 L390.45,364.21 L390.70,364.21 L390.95,364.21 L391.20,364.21 L391.45,364.22 L391.70,364.22 L391.95,364.22 L392.20,364.22 L392.45,364.23 L392.70,364.23 L392.95,364.23 L393.20,364.23 L393.45,364.24 L393.70,364.24 L393.95,364.24 L394.20,364.24 L394.45,364.25 L394.70,364.25 L394.95,364.25 L395.20,364.25 L395.45,364.25 L395.70,364.26 L395.95,364.26 L396.20,364.26 L396.45,364.26 L396.70,364.27 L396.95,364.27 L397.20,364.27 L397.45,364.27 L397.70,364.28 L397.95,364.28 L398.20,364.28 L398.45,364.28 L398.70,364.28 L398.95,364.29 L399.20,364.29 L399.45,364.29 L399.70,364.29 L399.95,364.30 L400.20,364.30 L400.45,364.30 L400.70,364.30 L400.95,364.30 L401.20,364.30 L401.45,364.29 L401.70,364.28 L401.95,364.26 L402.20,364.24 L402.45,364.20 L402.70,364.15 L402.95,364.09 L403.20,364.03 L403.45,363.98 L403.70,363.94 L403.95,363.93 L404.20,363.94 L404.45,363.97 L404.70,364.02 L404.95,364.08 L405.20,364.14 L405.45,364.20 L405.70,364.25 L405.95,364.29 L406.20,364.31 L406.45,364.33 L406.70,364.34 L406.95,364.35 L407.20,364.35 L407.45,364.36 L407.70,364.36 L407.95,364.36 L408.20,364.36 L408.45,364.37 L408.70,364.37 L408.95,364.37 L409.20,364.37 L409.45,364.37 L409.70,364.37 L409.95,364.38 L410.20,364.38 L410.45,364.38 L410.70,364.38 L410.95,364.38 L411.20,364.39 L411.45,364.39 L411.70,364.39 L411.95,364.39 L412.20,364.39 L412.45,364.40 L412.70,364.40 L412.95,364.40 L413.20,364.40 L413.45,364.40 L413.70,364.40 L413.95,364.41 L414.20,364.41 L414.45,364.41 L414.70,364.41 L414.95,364.41 L415.20,364.41 L415.45,364.42 L415.70,364.42 L415.95,364.42 L416.20,364.42 L416.45,364.42 L416.70,364.42 L416.95,364.42 L417.20,364.42 L417.45,364.41 L417.70,364.38 L417.95,364.33 L418.20,364.23 L418.45,364.03 L418.70,363.69 L418.95,363.11 L419.20,362.22 L419.45,360.88 L419.70,359.03 L419.95,356.60 L420.20,353.64 L420.45,350.26 L420.70,346.73 L420.95,343.39 L421.20,340.63 L421.45,338.80 L421.70,338.16 L421.95,338.55 L422.20,339.70 L422.45,341.51 L422.70,343.82 L422.95,346.44 L423.20,349.21 L423.45,351.93 L423.70,354.48 L423.95,356.74 L424.20,358.68 L424.45,360.25 L424.70,361.50 L424.95,362.44 L425.20,363.12 L425.45,363.60 L425.70,363.93 L425.95,364.15 L426.20,364.29 L426.45,364.37 L426.70,364.42 L426.95,364.45 L427.20,364.47 L427.45,364.48 L427.70,364.49 L427.95,364.49 L428.20,364.49 L428.45,364.50 L428.70,364.50 L428.95,364.50 L429.20,364.50 L429.45,364.50 L429.70,364.50 L429.95,364.50 L430.20,364.51 L430.45,364.51 L430.70,364.51 L430.95,364.51 L431.20,364.51 L431.45,364.51 L431.70,364.51 L431.95,364.51 L432.20,364.52 L432.45,364.52 L432.70,364.52 L432.95,364.52 L433.20,364.52 L433.45,364.52 L433.70,364.52 L433.95,364.52 L434.20,364.52 L434.45,364.53 L434.70,364.53 L434.95,364.53 L435.20,364.53 L435.45,364.53 L435.70,364.53 L435.95,364.53 L436.20,364.53 L436.45,364.53 L436.70,364.54 L436.95,364.54 L437.20,364.54 L437.45,364.54 L437.70,364.54 L437.95,364.54 L438.20,364.54 L438.45,364.54 L438.70,364.54 L438.95,364.54 L439.20,364.55 L439.45,364.55 L439.70,364.55 L439.95,364.55 L440.20,364.55 L440.45,364.55 L440.70,364.55 L440.95,364.55 L441.20,364.55 L441.45,364.55 L441.70,364.56 L441.95,364.56 L442.20,364.56 L442.45,364.56 L442.70,364.56 L442.95,364.56 L443.20,364.56 L443.45,364.56 L443.70,364.56 L443.95,364.56 L444.20,364.56 L444.45,364.56 L444.70,364.57 L444.95,364.57 L445.20,364.57 L445.45,364.57 L445.70,364.57 L445.95,364.57 L446.20,364.57 L446.45,364.57 L446.70,364.57 L446.95,364.57 L447.20,364.57 L447.45,364.57 L447.70,364.57 L447.95,364.57 L448.20,364.58 L448.45,364.58 L448.70,364.58 L448.95,364.58 L449.20,364.58 L449.45,364.58 L449.70,364.58 L449.95,364.58 L450.20,364.58 L450.45,364.58 L450.70,364.58 L450.95,364.58 L451.20,364.58 L451.45,364.58 L451.70,364.58 L451.95,364.58 L452.20,364.58 L452.45,364.59 L452.70,364.59 L452.95,364.59 L453.20,364.59 L453.45,364.59 L453.70,364.59 L453.95,364.59 L454.20,364.59 L454.45,364.59 L454.70,364.59 L454.95,364.59 L455.20,364.59 L455.45,364.59 L455.70,364.59 L455.95,364.59 L456.20,364.59 L456.45,364.59 L456.70,364.59 L456.95,364.59 L457.20,364.59 L457.45,364.59 L457.70,364.59 L457.95,364.59 L458.20,364.59 L458.45,364.60 L458.70,364.60 L458.95,364.60 L459.20,364.60 L459.45,364.60 L459.70,364.60 L459.95,364.60 L460.20,364.60 L460.45,364.60 L460.70,364.60 L460.95,364.60 L461.20,364.60 L461.45,364.60 L461.70,364.60 L461.95,364.60 L462.20,364.60 L462.45,364.60 L462.70,364.60 L462.95,364.60 L463.20,364.60 L463.45,364.60 L463.70,364.60 L463.95,364.60 L464.20,364.60 L464.45,364.60 L464.70,364.60 L464.95,364.60 L465.20,364.60 L465.45,364.60 L465.70,364.60 L465.95,364.60 L466.20,364.60 L466.45,364.60" fill="none" stroke="#3c62b2" stroke-width="1.6" stroke-linejoin="round" />
<path d="M317.00,206.93 L317.25,219.08 L317.50,233.55 L317.75,242.45 L318.00,247.15 L318.25,250.52 L318.50,253.82 L318.75,257.48 L319.00,261.52 L319.25,265.67 L319.50,269.78 L319.75,273.79 L320.00,277.71 L320.25,281.60 L320.50,285.48 L320.75,289.27 L321.00,292.90 L321.25,296.29 L321.50,299.37 L321.75,302.13 L322.00,304.63 L322.25,306.95 L322.50,309.11 L322.75,311.12 L323.00,313.00 L323.25,314.74 L323.50,316.37 L323.75,317.90 L324.00,319.37 L324.25,320.77 L324.50,322.10 L324.75,323.37 L325.00,324.57 L325.25,325.70 L325.50,326.76 L325.75,327.76 L326.00,328.69 L326.25,329.57 L326.50,330.43 L326.75,331.27 L327.00,332.08 L327.25,332.87 L327.50,333.64 L327.75,334.36 L328.00,335.06 L328.25,335.71 L328.50,336.32 L328.75,336.89 L329.00,337.41 L329.25,337.88 L329.50,338.29 L329.75,338.66 L330.00,338.99 L330.25,339.30 L330.50,339.60 L330.75,339.89 L331.00,340.16 L331.25,340.42 L331.50,340.67 L331.75,340.90 L332.00,341.13 L332.25,341.34 L332.50,341.55 L332.75,341.74 L333.00,341.92 L333.25,342.09 L333.50,342.26 L333.75,342.41 L334.00,342.55 L334.25,342.67 L334.50,342.76 L334.75,342.79 L335.00,342.77 L335.25,342.67 L335.50,342.51 L335.75,342.33 L336.00,342.18 L336.25,342.12 L336.50,342.19 L336.75,342.40 L337.00,342.71 L337.25,343.07 L337.50,343.43 L337.75,343.73 L338.00,343.97 L338.25,344.16 L338.50,344.30 L338.75,344.42 L339.00,344.52 L339.25,344.60 L339.50,344.66 L339.75,344.68 L340.00,344.65 L340.25,344.55 L340.50,344.39 L340.75,344.21 L341.00,344.08 L341.25,344.04 L341.50,344.15 L341.75,344.40 L342.00,344.76 L342.25,345.17 L342.50,345.56 L342.75,345.90 L343.00,346.16 L343.25,346.34 L343.50,346.47 L343.75,346.57 L344.00,346.63 L344.25,346.69 L344.50,346.74 L344.75,346.79 L345.00,346.84 L345.25,346.88 L345.50,346.93 L345.75,346.97 L346.00,347.01 L346.25,347.05 L346.50,347.09 L346.75,347.13 L347.00,347.17 L347.25,347.20 L347.50,347.24 L347.75,347.27 L348.00,347.31 L348.25,347.34 L348.50,347.37 L348.75,347.40 L349.00,347.43 L349.25,347.46 L349.50,347.48 L349.75,347.51 L350.00,347.54 L350.25,347.56 L350.50,347.59 L350.75,347.61 L351.00,347.63 L351.25,347.66 L351.50,347.68 L351.75,347.70 L352.00,347.72 L352.25,347.74 L352.50,347.76 L352.75,347.78 L353.00,347.80 L353.25,347.82 L353.50,347.84 L353.75,347.85 L354.00,347.87 L354.25,347.89 L354.50,347.90 L354.75,347.92 L355.00,347.94 L355.25,347.95 L355.50,347.97 L355.75,347.98 L356.00,347.99 L356.25,348.01 L356.50,348.02 L356.75,348.04 L357.00,348.05 L357.25,348.06 L357.50,348.07 L357.75,348.08 L358.00,348.10 L358.25,348.11 L358.50,348.12 L358.75,348.13 L359.00,348.14 L359.25,348.15 L359.50,348.16 L359.75,348.17 L360.00,348.18 L360.25,348.18 L360.50,348.17 L360.75,348.14 L361.00,348.08 L361.25,347.97 L361.50,347.79 L361.75,347.54 L362.00,347.22 L362.25,346.86 L362.50,346.52 L362.75,346.25 L363.00,346.11 L363.25,346.13 L363.50,346.32 L363.75,346.62 L364.00,346.99 L364.25,347.36 L364.50,347.68 L364.75,347.94 L365.00,348.12 L365.25,348.24 L365.50,348.31 L365.75,348.35 L366.00,348.37 L366.25,348.39 L366.50,348.40 L366.75,348.40 L367.00,348.41 L367.25,348.42 L367.50,348.43 L367.75,348.43 L368.00,348.44 L368.25,348.45 L368.50,348.45 L368.75,348.46 L369.00,348.47 L369.25,348.48 L369.50,348.48 L369.75,348.49 L370.00,348.50 L370.25,348.51 L370.50,348.51 L370.75,348.52 L371.00,348.53 L371.25,348.54 L371.50,348.54 L371.75,348.55 L372.00,348.56 L372.25,348.57 L372.50,348.57 L372.75,348.58 L373.00,348.59 L373.25,348.59 L373.50,348.60 L373.75,348.61 L374.00,348.61 L374.25,348.62 L374.50,348.63 L374.75,348.63 L375.00,348.64 L375.25,348.64 L375.50,348.65 L375.75,348.65 L376.00,348.66 L376.25,348.66 L376.50,348.67 L376.75,348.67 L377.00,348.68 L377.25,348.68 L377.50,348.68 L377.75,348.69 L378.00,348.69 L378.25,348.69 L378.50,348.69 L378.75,348.70 L379.00,348.70 L379.25,348.70 L379.50,348.70 L379.75,348.70 L380.00,348.70 L380.25,348.70 L380.50,348.70 L380.75,348.70 L381.00,348.70 L381.25,348.70 L381.50,348.70 L381.75,348.70 L382.00,348.70 L382.25,348.70 L382.50,348.69 L382.75,348.69 L383.00,348.68 L383.25,348.67 L383.50,348.66 L383.75,348.64 L384.00,348.61 L384.25,348.57 L384.50,348.52 L384.75,348.46 L385.00,348.39 L385.25,348.32 L385.50,348.25 L385.75,348.19 L386.00,348.14 L386.25,348.11 L386.50,348.10 L386.75,348.11 L387.00,348.14 L387.25,348.19 L387.50,348.25 L387.75,348.32 L388.00,348.39 L388.25,348.46 L388.50,348.52 L388.75,348.57 L389.00,348.61 L389.25,348.64 L389.50,348.66 L389.75,348.67 L390.00,348.68 L390.25,348.69 L390.50,348.69 L390.75,348.70 L391.00,348.70 L391.25,348.70 L391.50,348.70 L391.75,348.70 L392.00,348.70 L392.25,348.70 L392.50,348.70 L392.75,348.70 L393.00,348.70 L393.25,348.70 L393.50,348.70 L393.75,348.70 L394.00,348.70 L394.25,348.70 L394.50,348.70 L394.75,348.70 L395.00,348.70 L395.25,348.70 L395.50,348.70 L395.75,348.70 L396.00,348.70 L396.25,348.70 L396.50,348.70 L396.75,348.70 L397.00,348.70 L397.25,348.70 L397.50,348.70 L397.75,348.70 L398.00,348.70 L398.25,348.70 L398.50,348.70 L398.75,348.70 L399.00,348.70 L399.25,348.70 L399.50,348.70 L399.75,348.70 L400.00,348.70 L400.25,348.70 L400.50,348.70 L400.75,348.70 L401.00,348.70 L401.25,348.70 L401.50,348.70 L401.75,348.70 L402.00,348.70 L402.25,348.70 L402.50,348.70 L402.75,348.70 L403.00,348.70 L403.25,348.70 L403.50,348.70 L403.75,348.70 L404.00,348.70 L404.25,348.70 L404.50,348.70 L404.75,348.70 L405.00,348.70 L405.25,348.70 L405.50,348.70 L405.75,348.70 L406.00,348.70 L406.25,348.70 L406.50,348.70 L406.75,348.70 L407.00,348.70 L407.25,348.70 L407.50,348.70 L407.75,348.70 L408.00,348.70 L408.25,348.70 L408.50,348.70 L408.75,348.70 L409.00,348.70 L409.25,348.70 L409.50,348.70 L409.75,348.70 L410.00,348.70 L410.25,348.70 L410.50,348.70 L410.75,348.70 L411.00,348.70 L411.25,348.70 L411.50,348.70 L411.75,348.70 L412.00,348.69 L412.25,348.69 L412.50,348.69 L412.75,348.69 L413.00,348.69 L413.25,348.69 L413.50,348.69 L413.75,348.69 L414.00,348.69 L414.25,348.69 L414.50,348.69 L414.75,348.69 L415.00,348.69 L415.25,348.69 L415.50,348.69 L415.75,348.69 L416.00,348.69 L416.25,348.69 L416.50,348.69 L416.75,348.69 L417.00,348.69 L417.25,348.69 L417.50,348.69 L417.75,348.69 L418.00,348.69 L418.25,348.69 L418.50,348.69 L418.75,348.69 L419.00,348.69 L419.25,348.69 L419.50,348.69 L419.75,348.69 L420.00,348.69 L420.25,348.69 L420.50,348.69 L420.75,348.69 L421.00,348.69 L421.25,348.69 L421.50,348.69 L421.75,348.69 L422.00,348.69 L422.25,348.69 L422.50,348.69 L422.75,348.69 L423.00,348.69 L423.25,348.69 L423.50,348.68 L423.75,348.68 L424.00,348.66 L424.25,348.62 L424.50,348.55 L424.75,348.41 L425.00,348.16 L425.25,347.72 L425.50,347.00 L425.75,345.88 L426.00,344.25 L426.25,342.01 L426.50,339.11 L426.75,335.61 L427.00,331.70 L427.25,327.68 L427.50,323.96 L427.75,320.99 L428.00,319.15 L428.25,318.70 L428.50,319.33 L428.75,320.80 L429.00,322.99 L429.25,325.71 L429.50,328.75 L429.75,331.91 L430.00,334.98 L430.25,337.83 L430.50,340.34 L430.75,342.46 L431.00,344.18 L431.25,345.52 L431.50,346.53 L431.75,347.26 L432.00,347.77 L432.25,348.11 L432.50,348.34 L432.75,348.48 L433.00,348.56 L433.25,348.61 L433.50,348.64 L433.75,348.66 L434.00,348.67 L434.25,348.67 L434.50,348.67 L434.75,348.67 L435.00,348.67 L435.25,348.67 L435.50,348.67 L435.75,348.67 L436.00,348.67 L436.25,348.67 L436.50,348.67 L436.75,348.67 L437.00,348.67 L437.25,348.67 L437.50,348.67 L437.75,348.67 L438.00,348.66 L438.25,348.65 L438.50,348.64 L438.75,348.61 L439.00,348.57 L439.25,348.52 L439.50,348.44 L439.75,348.35 L440.00,348.24 L440.25,348.14 L440.50,348.05 L440.75,347.99 L441.00,347.96 L441.25,347.99 L441.50,348.05 L441.75,348.14 L442.00,348.24 L442.25,348.34 L442.50,348.44 L442.75,348.51 L443.00,348.57 L443.25,348.61 L443.50,348.63 L443.75,348.64 L444.00,348.65 L444.25,348.66 L444.50,348.66 L444.75,348.66 L445.00,348.66 L445.25,348.66 L445.50,348.66 L445.75,348.66 L446.00,348.66 L446.25,348.66 L446.50,348.65 L446.75,348.65 L447.00,348.65 L447.25,348.65 L447.50,348.65 L447.75,348.65 L448.00,348.65 L448.25,348.65 L448.50,348.65 L448.75,348.65 L449.00,348.65 L449.25,348.65 L449.50,348.65 L449.75,348.65 L450.00,348.65 L450.25,348.65 L450.50,348.65 L450.75,348.65 L451.00,348.64 L451.25,348.64 L451.50,348.64 L451.75,348.64 L452.00,348.64 L452.25,348.64 L452.50,348.64 L452.75,348.64 L453.00,348.64 L453.25,348.64 L453.50,348.64 L453.75,348.64 L454.00,348.64 L454.25,348.64 L454.50,348.64 L454.75,348.64 L455.00,348.63 L455.25,348.63 L455.50,348.63 L455.75,348.63 L456.00,348.63 L456.25,348.63 L456.50,348.63 L456.75,348.63 L457.00,348.63 L457.25,348.63 L457.50,348.63 L457.75,348.63 L458.00,348.63 L458.25,348.63 L458.50,348.63 L458.75,348.62 L459.00,348.62 L459.25,348.62 L459.50,348.62 L459.75,348.62 L460.00,348.62 L460.25,348.62 L460.50,348.62 L460.75,348.62 L461.00,348.62 L461.25,348.62 L461.50,348.62 L461.75,348.62 L462.00,348.61 L462.25,348.61 L462.50,348.61 L462.75,348.61 L463.00,348.61 L463.25,348.61 L463.50,348.61 L463.75,348.61 L464.00,348.61 L464.25,348.61 L464.50,348.61 L464.75,348.61 L465.00,348.61 L465.25,348.60 L465.50,348.60 L465.75,348.60 L466.00,348.60 L466.25,348.60 L466.50,348.60" fill="none" stroke="#f07f30" stroke-width="1.6" stroke-linejoin="round" />
<path d="M314.70,334.90 L314.95,335.28 L315.20,335.53 L315.45,335.69 L315.70,335.77 L315.95,335.80 L316.20,335.80 L316.45,335.55 L316.70,334.85 L316.95,333.61 L317.20,328.19 L317.45,319.72 L317.70,310.06 L317.95,297.85 L318.20,284.57 L318.45,269.79 L318.70,254.00 L318.95,233.01 L319.20,220.00 L319.45,220.00 L319.70,220.00 L319.95,220.00 L320.20,220.00 L320.45,220.00 L320.70,220.00 L320.95,220.00 L321.20,220.00 L321.45,220.00 L321.70,220.00 L321.95,220.00 L322.20,220.00 L322.45,220.00 L322.70,220.00 L322.95,220.00 L323.20,220.00 L323.45,220.00 L323.70,220.00 L323.95,220.00 L324.20,220.00 L324.45,220.00 L324.70,220.00 L324.95,220.00 L325.20,220.00 L325.45,220.00 L325.70,220.00 L325.95,220.00 L326.20,220.00 L326.45,220.00 L326.70,220.00 L326.95,220.00 L327.20,226.18 L327.45,242.27 L327.70,253.58 L327.95,262.00 L328.20,269.05 L328.45,273.95 L328.70,276.81 L328.95,279.19 L329.20,281.20 L329.45,282.92 L329.70,284.42 L329.95,285.75 L330.20,287.00 L330.45,288.22 L330.70,289.50 L330.95,290.89 L331.20,292.31 L331.45,293.72 L331.70,295.10 L331.95,296.45 L332.20,297.79 L332.45,299.09 L332.70,300.37 L332.95,301.61 L333.20,302.83 L333.45,304.01 L333.70,305.16 L333.95,306.28 L334.20,307.36 L334.45,308.40 L334.70,309.40 L334.95,310.38 L335.20,311.34 L335.45,312.28 L335.70,313.21 L335.95,314.11 L336.20,314.98 L336.45,315.84 L336.70,316.67 L336.95,317.47 L337.20,318.24 L337.45,318.99 L337.70,319.71 L337.95,320.39 L338.20,321.05 L338.45,321.68 L338.70,322.32 L338.95,322.96 L339.20,323.61 L339.45,324.25 L339.70,324.87 L339.95,325.47 L340.20,326.05 L340.45,326.59 L340.70,327.08 L340.95,327.53 L341.20,327.92 L341.45,328.24 L341.70,328.50 L341.95,328.67 L342.20,328.79 L342.45,328.88 L342.70,328.96 L342.95,329.00 L343.20,329.01 L343.45,328.97 L343.70,328.87 L343.95,328.70 L344.20,328.49 L344.45,328.29 L344.70,328.14 L344.95,328.10 L345.20,328.20 L345.45,328.43 L345.70,328.75 L345.95,329.09 L346.20,329.41 L346.45,329.68 L346.70,329.90 L346.95,330.07 L347.20,330.20 L347.45,330.32 L347.70,330.43 L347.95,330.53 L348.20,330.63 L348.45,330.72 L348.70,330.79 L348.95,330.84 L349.20,330.83 L349.45,330.76 L349.70,330.65 L349.95,330.52 L350.20,330.42 L350.45,330.42 L350.70,330.55 L350.95,330.82 L351.20,331.19 L351.45,331.60 L351.70,331.99 L351.95,332.32 L352.20,332.58 L352.45,332.76 L352.70,332.89 L352.95,332.97 L353.20,333.02 L353.45,333.07 L353.70,333.11 L353.95,333.14 L354.20,333.17 L354.45,333.20 L354.70,333.23 L354.95,333.25 L355.20,333.28 L355.45,333.30 L355.70,333.32 L355.95,333.34 L356.20,333.36 L356.45,333.38 L356.70,333.40 L356.95,333.42 L357.20,333.44 L357.45,333.46 L357.70,333.48 L357.95,333.50 L358.20,333.51 L358.45,333.53 L358.70,333.56 L358.95,333.58 L359.20,333.60 L359.45,333.62 L359.70,333.65 L359.95,333.67 L360.20,333.70 L360.45,333.73 L360.70,333.75 L360.95,333.78 L361.20,333.81 L361.45,333.84 L361.70,333.87 L361.95,333.90 L362.20,333.93 L362.45,333.96 L362.70,333.99 L362.95,334.02 L363.20,334.05 L363.45,334.08 L363.70,334.11 L363.95,334.14 L364.20,334.17 L364.45,334.20 L364.70,334.22 L364.95,334.25 L365.20,334.28 L365.45,334.31 L365.70,334.33 L365.95,334.36 L366.20,334.38 L366.45,334.40 L366.70,334.43 L366.95,334.45 L367.20,334.47 L367.45,334.49 L367.70,334.50 L367.95,334.52 L368.20,334.54 L368.45,334.55 L368.70,334.56 L368.95,334.57 L369.20,334.58 L369.45,334.59 L369.70,334.59 L369.95,334.58 L370.20,334.56 L370.45,334.51 L370.70,334.43 L370.95,334.30 L371.20,334.10 L371.45,333.84 L371.70,333.52 L371.95,333.19 L372.20,332.89 L372.45,332.68 L372.70,332.60 L372.95,332.68 L373.20,332.89 L373.45,333.19 L373.70,333.52 L373.95,333.84 L374.20,334.10 L374.45,334.30 L374.70,334.43 L374.95,334.51 L375.20,334.56 L375.45,334.58 L375.70,334.60 L375.95,334.62 L376.20,334.63 L376.45,334.65 L376.70,334.67 L376.95,334.69 L377.20,334.71 L377.45,334.73 L377.70,334.76 L377.95,334.78 L378.20,334.80 L378.45,334.82 L378.70,334.84 L378.95,334.86 L379.20,334.88 L379.45,334.89 L379.70,334.90 L379.95,334.90 L380.20,334.90 L380.45,334.90 L380.70,334.90 L380.95,334.90 L381.20,334.90 L381.45,334.90 L381.70,334.91 L381.95,334.91 L382.20,334.91 L382.45,334.91 L382.70,334.91 L382.95,334.91 L383.20,334.91 L383.45,334.91 L383.70,334.91 L383.95,334.91 L384.20,334.91 L384.45,334.91 L384.70,334.91 L384.95,334.91 L385.20,334.92 L385.45,334.92 L385.70,334.92 L385.95,334.92 L386.20,334.92 L386.45,334.92 L386.70,334.92 L386.95,334.92 L387.20,334.92 L387.45,334.92 L387.70,334.92 L387.95,334.92 L388.20,334.92 L388.45,334.92 L388.70,334.93 L388.95,334.93 L389.20,334.93 L389.45,334.93 L389.70,334.93 L389.95,334.93 L390.20,334.93 L390.45,334.93 L390.70,334.93 L390.95,334.93 L391.20,334.93 L391.45,334.93 L391.70,334.92 L391.95,334.92 L392.20,334.91 L392.45,334.90 L392.70,334.89 L392.95,334.87 L393.20,334.85 L393.45,334.82 L393.70,334.78 L393.95,334.74 L394.20,334.70 L394.45,334.65 L394.70,334.60 L394.95,334.55 L395.20,334.51 L395.45,334.47 L395.70,334.45 L395.95,334.44 L396.20,334.45 L396.45,334.47 L396.70,334.50 L396.95,334.54 L397.20,334.58 L397.45,334.63 L397.70,334.68 L397.95,334.73 L398.20,334.78 L398.45,334.82 L398.70,334.85 L398.95,334.88 L399.20,334.90 L399.45,334.91 L399.70,334.93 L399.95,334.94 L400.20,334.94 L400.45,334.95 L400.70,334.95 L400.95,334.95 L401.20,334.95 L401.45,334.95 L401.70,334.95 L401.95,334.95 L402.20,334.96 L402.45,334.96 L402.70,334.96 L402.95,334.96 L403.20,334.96 L403.45,334.96 L403.70,334.96 L403.95,334.96 L404.20,334.96 L404.45,334.96 L404.70,334.96 L404.95,334.96 L405.20,334.96 L405.45,334.96 L405.70,334.96 L405.95,334.96 L406.20,334.96 L406.45,334.96 L406.70,334.96 L406.95,334.96 L407.20,334.96 L407.45,334.96 L407.70,334.96 L407.95,334.97 L408.20,334.97 L408.45,334.97 L408.70,334.97 L408.95,334.97 L409.20,334.97 L409.45,334.97 L409.70,334.97 L409.95,334.97 L410.20,334.97 L410.45,334.97 L410.70,334.97 L410.95,334.97 L411.20,334.97 L411.45,334.97 L411.70,334.97 L411.95,334.97 L412.20,334.97 L412.45,334.97 L412.70,334.97 L412.95,334.97 L413.20,334.97 L413.45,334.97 L413.70,334.97 L413.95,334.97 L414.20,334.97 L414.45,334.97 L414.70,334.98 L414.95,334.98 L415.20,334.98 L415.45,334.98 L415.70,334.98 L415.95,334.98 L416.20,334.98 L416.45,334.98 L416.70,334.98 L416.95,334.98 L417.20,334.98 L417.45,334.98 L417.70,334.98 L417.95,334.98 L418.20,334.98 L418.45,334.98 L418.70,334.98 L418.95,334.98 L419.20,334.98 L419.45,334.98 L419.70,334.98 L419.95,334.98 L420.20,334.98 L420.45,334.98 L420.70,334.98 L420.95,334.98 L421.20,334.98 L421.45,334.98 L421.70,334.98 L421.95,334.98 L422.20,334.98 L422.45,334.98 L422.70,334.98 L422.95,334.98 L423.20,334.98 L423.45,334.98 L423.70,334.98 L423.95,334.99 L424.20,334.99 L424.45,334.99 L424.70,334.99 L424.95,334.99 L425.20,334.99 L425.45,334.99 L425.70,334.99 L425.95,334.99 L426.20,334.99 L426.45,334.99 L426.70,334.99 L426.95,334.99 L427.20,334.99 L427.45,334.99 L427.70,334.99 L427.95,334.99 L428.20,334.99 L428.45,334.99 L428.70,334.99 L428.95,334.99 L429.20,334.99 L429.45,334.99 L429.70,334.99 L429.95,334.99 L430.20,334.99 L430.45,334.99 L430.70,334.99 L430.95,334.99 L431.20,334.99 L431.45,334.99 L431.70,334.99 L431.95,334.99 L432.20,334.99 L432.45,334.98 L432.70,334.97 L432.95,334.95 L433.20,334.91 L433.45,334.83 L433.70,334.68 L433.95,334.41 L434.20,333.95 L434.45,333.20 L434.70,332.06 L434.95,330.37 L435.20,328.03 L435.45,324.92 L435.70,321.04 L435.95,316.47 L436.20,311.41 L436.45,306.22 L436.70,301.34 L436.95,297.26 L437.20,294.45 L437.45,293.23 L437.70,293.54 L437.95,294.91 L438.20,297.23 L438.45,300.33 L438.70,303.99 L438.95,307.97 L439.20,312.04 L439.45,316.00 L439.70,319.68 L439.95,322.96 L440.20,325.78 L440.45,328.12 L440.70,330.00 L440.95,331.46 L441.20,332.55 L441.45,333.35 L441.70,333.92 L441.95,334.31 L442.20,334.57 L442.45,334.74 L442.70,334.84 L442.95,334.91 L443.20,334.95 L443.45,334.97 L443.70,334.98 L443.95,334.99 L444.20,334.99 L444.45,335.00 L444.70,335.00 L444.95,335.00 L445.20,335.00 L445.45,335.00 L445.70,335.00 L445.95,335.00 L446.20,335.00 L446.45,335.00 L446.70,335.00 L446.95,335.00 L447.20,335.00 L447.45,335.00 L447.70,335.00 L447.95,335.00 L448.20,335.00 L448.45,335.00 L448.70,335.00 L448.95,335.00 L449.20,335.00 L449.45,335.00 L449.70,335.00 L449.95,335.00 L450.20,335.00 L450.45,335.00 L450.70,335.00 L450.95,335.00 L451.20,335.00 L451.45,335.00 L451.70,335.00 L451.95,335.00 L452.20,335.00 L452.45,335.00 L452.70,335.00 L452.95,335.00 L453.20,335.00 L453.45,335.00 L453.70,335.00 L453.95,335.00 L454.20,335.00 L454.45,335.00 L454.70,335.00 L454.95,335.00 L455.20,335.00 L455.45,335.00 L455.70,335.00 L455.95,335.00 L456.20,335.00 L456.45,335.00 L456.70,335.00 L456.95,335.00 L457.20,335.00 L457.45,335.00 L457.70,335.00 L457.95,335.00 L458.20,335.00 L458.45,335.00 L458.70,335.00 L458.95,335.00 L459.20,335.00 L459.45,335.00 L459.70,335.00 L459.95,335.00 L460.20,335.00 L460.45,335.00 L460.70,335.00 L460.95,335.00 L461.20,335.00 L461.45,335.00 L461.70,335.00 L461.95,335.00 L462.20,335.00 L462.45,335.00 L462.70,335.00 L462.95,335.00 L463.20,335.00 L463.45,335.00 L463.70,335.00 L463.95,335.00 L464.20,335.00 L464.45,335.00 L464.70,335.00 L464.95,335.00 L465.20,335.00 L465.45,335.00 L465.70,335.00 L465.95,335.00 L466.20,335.00 L466.45,335.00" fill="none" stroke="#10723b" stroke-width="1.6" stroke-linejoin="round" />
<path d="M314.70,319.50 L314.95,319.35 L315.20,319.23 L315.45,319.12 L315.70,319.04 L315.95,318.98 L316.20,318.94 L316.45,318.91 L316.70,318.90 L316.95,318.91 L317.20,318.98 L317.45,319.09 L317.70,319.25 L317.95,319.43 L318.20,319.64 L318.45,319.85 L318.70,320.06 L318.95,320.26 L319.20,320.43 L319.45,320.57 L319.70,320.67 L319.95,320.73 L320.20,320.78 L320.45,320.83 L320.70,320.88 L320.95,320.93 L321.20,320.97 L321.45,321.01 L321.70,321.05 L321.95,321.09 L322.20,321.12 L322.45,321.15 L322.70,321.18 L322.95,321.21 L323.20,321.23 L323.45,321.25 L323.70,321.27 L323.95,321.28 L324.20,321.29 L324.45,321.30 L324.70,321.30 L324.95,320.73 L325.20,317.70 L325.45,313.03 L325.70,305.29 L325.95,292.69 L326.20,280.18 L326.45,267.75 L326.70,254.00 L326.95,233.31 L327.20,220.00 L327.45,220.00 L327.70,220.00 L327.95,220.00 L328.20,220.00 L328.45,220.00 L328.70,220.00 L328.95,220.00 L329.20,220.00 L329.45,220.00 L329.70,220.00 L329.95,220.00 L330.20,220.00 L330.45,220.00 L330.70,220.00 L330.95,220.00 L331.20,220.00 L331.45,220.00 L331.70,220.00 L331.95,220.00 L332.20,220.00 L332.45,220.00 L332.70,220.00 L332.95,220.00 L333.20,220.00 L333.45,220.00 L333.70,220.00 L333.95,220.00 L334.20,220.00 L334.45,220.00 L334.70,220.00 L334.95,220.00 L335.20,223.69 L335.45,234.58 L335.70,245.39 L335.95,250.61 L336.20,254.32 L336.45,257.37 L336.70,259.86 L336.95,261.93 L337.20,263.69 L337.45,265.24 L337.70,266.62 L337.95,267.85 L338.20,268.98 L338.45,270.05 L338.70,271.08 L338.95,272.12 L339.20,273.20 L339.45,274.36 L339.70,275.58 L339.95,276.81 L340.20,278.03 L340.45,279.25 L340.70,280.47 L340.95,281.70 L341.20,282.93 L341.45,284.16 L341.70,285.40 L341.95,286.65 L342.20,287.92 L342.45,289.24 L342.70,290.60 L342.95,291.96 L343.20,293.32 L343.45,294.66 L343.70,295.95 L343.95,297.18 L344.20,298.34 L344.45,299.41 L344.70,300.43 L344.95,301.43 L345.20,302.40 L345.45,303.35 L345.70,304.25 L345.95,305.10 L346.20,305.90 L346.45,306.64 L346.70,307.32 L346.95,307.91 L347.20,308.47 L347.45,308.99 L347.70,309.49 L347.95,309.96 L348.20,310.40 L348.45,310.81 L348.70,311.19 L348.95,311.54 L349.20,311.86 L349.45,312.16 L349.70,312.43 L349.95,312.69 L350.20,312.93 L350.45,313.16 L350.70,313.38 L350.95,313.58 L351.20,313.78 L351.45,313.96 L351.70,314.13 L351.95,314.29 L352.20,314.43 L352.45,314.53 L352.70,314.58 L352.95,314.56 L353.20,314.47 L353.45,314.33 L353.70,314.17 L353.95,314.06 L354.20,314.05 L354.45,314.17 L354.70,314.43 L354.95,314.79 L355.20,315.18 L355.45,315.55 L355.70,315.87 L355.95,316.12 L356.20,316.29 L356.45,316.39 L356.70,316.43 L356.95,316.38 L357.20,316.27 L357.45,316.12 L357.70,315.98 L357.95,315.92 L358.20,315.99 L358.45,316.21 L358.70,316.56 L358.95,316.98 L359.20,317.40 L359.45,317.78 L359.70,318.08 L359.95,318.31 L360.20,318.47 L360.45,318.58 L360.70,318.67 L360.95,318.74 L361.20,318.80 L361.45,318.86 L361.70,318.91 L361.95,318.96 L362.20,319.01 L362.45,319.05 L362.70,319.10 L362.95,319.14 L363.20,319.18 L363.45,319.22 L363.70,319.26 L363.95,319.30 L364.20,319.33 L364.45,319.37 L364.70,319.40 L364.95,319.44 L365.20,319.47 L365.45,319.51 L365.70,319.54 L365.95,319.57 L366.20,319.61 L366.45,319.64 L366.70,319.68 L366.95,319.71 L367.20,319.75 L367.45,319.78 L367.70,319.81 L367.95,319.85 L368.20,319.88 L368.45,319.91 L368.70,319.94 L368.95,319.97 L369.20,320.00 L369.45,320.03 L369.70,320.06 L369.95,320.09 L370.20,320.12 L370.45,320.15 L370.70,320.17 L370.95,320.20 L371.20,320.22 L371.45,320.24 L371.70,320.27 L371.95,320.29 L372.20,320.31 L372.45,320.32 L372.70,320.34 L372.95,320.35 L373.20,320.37 L373.45,320.38 L373.70,320.39 L373.95,320.40 L374.20,320.41 L374.45,320.41 L374.70,320.42 L374.95,320.43 L375.20,320.44 L375.45,320.44 L375.70,320.45 L375.95,320.46 L376.20,320.46 L376.45,320.47 L376.70,320.48 L376.95,320.48 L377.20,320.49 L377.45,320.50 L377.70,320.50 L377.95,320.50 L378.20,320.50 L378.45,320.48 L378.70,320.44 L378.95,320.35 L379.20,320.21 L379.45,319.99 L379.70,319.68 L379.95,319.30 L380.20,318.89 L380.45,318.51 L380.70,318.22 L380.95,318.10 L381.20,318.16 L381.45,318.40 L381.70,318.77 L381.95,319.19 L382.20,319.60 L382.45,319.95 L382.70,320.22 L382.95,320.41 L383.20,320.53 L383.45,320.60 L383.70,320.64 L383.95,320.66 L384.20,320.67 L384.45,320.68 L384.70,320.69 L384.95,320.70 L385.20,320.70 L385.45,320.71 L385.70,320.72 L385.95,320.72 L386.20,320.73 L386.45,320.73 L386.70,320.74 L386.95,320.75 L387.20,320.75 L387.45,320.76 L387.70,320.76 L387.95,320.77 L388.20,320.78 L388.45,320.78 L388.70,320.79 L388.95,320.79 L389.20,320.80 L389.45,320.80 L389.70,320.81 L389.95,320.82 L390.20,320.82 L390.45,320.83 L390.70,320.83 L390.95,320.84 L391.20,320.84 L391.45,320.85 L391.70,320.86 L391.95,320.86 L392.20,320.87 L392.45,320.87 L392.70,320.88 L392.95,320.88 L393.20,320.89 L393.45,320.89 L393.70,320.90 L393.95,320.90 L394.20,320.91 L394.45,320.92 L394.70,320.92 L394.95,320.93 L395.20,320.93 L395.45,320.94 L395.70,320.94 L395.95,320.95 L396.20,320.95 L396.45,320.96 L396.70,320.96 L396.95,320.97 L397.20,320.97 L397.45,320.98 L397.70,320.98 L397.95,320.99 L398.20,320.99 L398.45,321.00 L398.70,321.00 L398.95,321.01 L399.20,321.01 L399.45,321.02 L399.70,321.02 L399.95,321.03 L400.20,321.03 L400.45,321.04 L400.70,321.04 L400.95,321.04 L401.20,321.05 L401.45,321.05 L401.70,321.05 L401.95,321.06 L402.20,321.05 L402.45,321.04 L402.70,321.02 L402.95,320.98 L403.20,320.93 L403.45,320.85 L403.70,320.75 L403.95,320.64 L404.20,320.52 L404.45,320.42 L404.70,320.35 L404.95,320.32 L405.20,320.34 L405.45,320.40 L405.70,320.50 L405.95,320.62 L406.20,320.75 L406.45,320.86 L406.70,320.96 L406.95,321.03 L407.20,321.08 L407.45,321.12 L407.70,321.14 L407.95,321.16 L408.20,321.17 L408.45,321.17 L408.70,321.18 L408.95,321.18 L409.20,321.19 L409.45,321.19 L409.70,321.19 L409.95,321.20 L410.20,321.20 L410.45,321.21 L410.70,321.21 L410.95,321.21 L411.20,321.22 L411.45,321.22 L411.70,321.22 L411.95,321.23 L412.20,321.23 L412.45,321.24 L412.70,321.24 L412.95,321.24 L413.20,321.25 L413.45,321.25 L413.70,321.25 L413.95,321.26 L414.20,321.26 L414.45,321.26 L414.70,321.27 L414.95,321.27 L415.20,321.28 L415.45,321.28 L415.70,321.28 L415.95,321.29 L416.20,321.29 L416.45,321.29 L416.70,321.30 L416.95,321.30 L417.20,321.30 L417.45,321.31 L417.70,321.31 L417.95,321.31 L418.20,321.31 L418.45,321.32 L418.70,321.32 L418.95,321.32 L419.20,321.33 L419.45,321.33 L419.70,321.33 L419.95,321.34 L420.20,321.34 L420.45,321.34 L420.70,321.35 L420.95,321.35 L421.20,321.35 L421.45,321.35 L421.70,321.36 L421.95,321.36 L422.20,321.36 L422.45,321.37 L422.70,321.37 L422.95,321.37 L423.20,321.37 L423.45,321.38 L423.70,321.38 L423.95,321.38 L424.20,321.39 L424.45,321.39 L424.70,321.39 L424.95,321.39 L425.20,321.40 L425.45,321.40 L425.70,321.40 L425.95,321.40 L426.20,321.41 L426.45,321.41 L426.70,321.41 L426.95,321.41 L427.20,321.42 L427.45,321.42 L427.70,321.42 L427.95,321.42 L428.20,321.43 L428.45,321.43 L428.70,321.43 L428.95,321.43 L429.20,321.44 L429.45,321.44 L429.70,321.44 L429.95,321.44 L430.20,321.45 L430.45,321.45 L430.70,321.45 L430.95,321.45 L431.20,321.45 L431.45,321.46 L431.70,321.46 L431.95,321.46 L432.20,321.46 L432.45,321.46 L432.70,321.47 L432.95,321.47 L433.20,321.47 L433.45,321.47 L433.70,321.48 L433.95,321.48 L434.20,321.48 L434.45,321.48 L434.70,321.48 L434.95,321.49 L435.20,321.49 L435.45,321.49 L435.70,321.49 L435.95,321.49 L436.20,321.49 L436.45,321.50 L436.70,321.50 L436.95,321.50 L437.20,321.50 L437.45,321.50 L437.70,321.51 L437.95,321.51 L438.20,321.51 L438.45,321.51 L438.70,321.51 L438.95,321.51 L439.20,321.52 L439.45,321.52 L439.70,321.52 L439.95,321.52 L440.20,321.52 L440.45,321.51 L440.70,321.51 L440.95,321.49 L441.20,321.44 L441.45,321.35 L441.70,321.19 L441.95,320.90 L442.20,320.39 L442.45,319.57 L442.70,318.26 L442.95,316.31 L443.20,313.51 L443.45,309.68 L443.70,304.71 L443.95,298.57 L444.20,291.40 L444.45,283.52 L444.70,275.44 L444.95,267.79 L445.20,261.28 L445.45,256.61 L445.70,254.26 L445.95,254.35 L446.20,256.11 L446.45,259.34 L446.70,263.82 L446.95,269.26 L447.20,275.31 L447.45,281.64 L447.70,287.92 L447.95,293.89 L448.20,299.34 L448.45,304.15 L448.70,308.24 L448.95,311.61 L449.20,314.31 L449.45,316.40 L449.70,317.98 L449.95,319.13 L450.20,319.96 L450.45,320.53 L450.70,320.92 L450.95,321.17 L451.20,321.33 L451.45,321.43 L451.70,321.49 L451.95,321.53 L452.20,321.55 L452.45,321.57 L452.70,321.57 L452.95,321.58 L453.20,321.58 L453.45,321.58 L453.70,321.58 L453.95,321.58 L454.20,321.58 L454.45,321.58 L454.70,321.59 L454.95,321.59 L455.20,321.59 L455.45,321.59 L455.70,321.59 L455.95,321.59 L456.20,321.59 L456.45,321.59 L456.70,321.59 L456.95,321.59 L457.20,321.59 L457.45,321.59 L457.70,321.59 L457.95,321.59 L458.20,321.59 L458.45,321.59 L458.70,321.59 L458.95,321.59 L459.20,321.59 L459.45,321.59 L459.70,321.60 L459.95,321.60 L460.20,321.60 L460.45,321.60 L460.70,321.60 L460.95,321.60 L461.20,321.60 L461.45,321.60 L461.70,321.60 L461.95,321.60 L462.20,321.60 L462.45,321.60 L462.70,321.60 L462.95,321.60 L463.20,321.60 L463.45,321.60 L463.70,321.60 L463.95,321.60 L464.20,321.60 L464.45,321.60 L464.70,321.60 L464.95,321.60 L465.20,321.60 L465.45,321.60 L465.70,321.60 L465.95,321.60 L466.20,321.60 L466.45,321.60" fill="none" stroke="#2f3988" stroke-width="1.6" stroke-linejoin="round" />
</g>
<line x1="423.60" y1="248.40" x2="423.60" y2="320.90" stroke="#231f20" stroke-width="1.4" stroke-dasharray="3.2,3.0"/>
<line x1="423.60" y1="320.90" x2="396.40" y2="374.10" stroke="#231f20" stroke-width="1.4" stroke-dasharray="3.2,4.0"/>
<line x1="460.40" y1="248.40" x2="460.40" y2="320.90" stroke="#231f20" stroke-width="1.4" stroke-dasharray="3.2,3.0"/>
<line x1="460.40" y1="320.90" x2="433.40" y2="374.10" stroke="#231f20" stroke-width="1.4" stroke-dasharray="3.2,4.0"/>
<line x1="314.40" y1="254.60" x2="466.40" y2="254.60" stroke="#231f20" stroke-width="1.3" />
<line x1="466.40" y1="254.60" x2="466.40" y2="374.20" stroke="#231f20" stroke-width="1.3" />
<line x1="314.40" y1="254.00" x2="314.40" y2="375.00" stroke="#231f20" stroke-width="1.6" />
<line x1="313.60" y1="374.20" x2="467.00" y2="374.20" stroke="#231f20" stroke-width="1.6" />
<line x1="307.80" y1="374.30" x2="314.40" y2="374.30" stroke="#231f20" stroke-width="1.6" />
<line x1="311.00" y1="364.30" x2="314.40" y2="364.30" stroke="#231f20" stroke-width="1.2" />
<line x1="311.00" y1="354.30" x2="314.40" y2="354.30" stroke="#231f20" stroke-width="1.2" />
<line x1="311.00" y1="344.30" x2="314.40" y2="344.30" stroke="#231f20" stroke-width="1.2" />
<line x1="311.00" y1="334.30" x2="314.40" y2="334.30" stroke="#231f20" stroke-width="1.2" />
<line x1="307.80" y1="324.30" x2="314.40" y2="324.30" stroke="#231f20" stroke-width="1.6" />
<line x1="311.00" y1="314.30" x2="314.40" y2="314.30" stroke="#231f20" stroke-width="1.2" />
<line x1="311.00" y1="304.30" x2="314.40" y2="304.30" stroke="#231f20" stroke-width="1.2" />
<line x1="311.00" y1="294.30" x2="314.40" y2="294.30" stroke="#231f20" stroke-width="1.2" />
<line x1="311.00" y1="284.30" x2="314.40" y2="284.30" stroke="#231f20" stroke-width="1.2" />
<line x1="307.80" y1="274.30" x2="314.40" y2="274.30" stroke="#231f20" stroke-width="1.6" />
<line x1="311.00" y1="264.30" x2="314.40" y2="264.30" stroke="#231f20" stroke-width="1.2" />
<line x1="311.00" y1="254.30" x2="314.40" y2="254.30" stroke="#231f20" stroke-width="1.2" />
<line x1="314.30" y1="374.20" x2="314.30" y2="377.90" stroke="#231f20" stroke-width="1.6" />
<line x1="324.30" y1="374.20" x2="324.30" y2="376.40" stroke="#231f20" stroke-width="1.2" />
<line x1="334.29" y1="374.20" x2="334.29" y2="376.40" stroke="#231f20" stroke-width="1.2" />
<line x1="344.29" y1="374.20" x2="344.29" y2="376.40" stroke="#231f20" stroke-width="1.2" />
<line x1="354.29" y1="374.20" x2="354.29" y2="376.40" stroke="#231f20" stroke-width="1.2" />
<line x1="364.29" y1="374.20" x2="364.29" y2="377.90" stroke="#231f20" stroke-width="1.6" />
<line x1="374.28" y1="374.20" x2="374.28" y2="376.40" stroke="#231f20" stroke-width="1.2" />
<line x1="384.28" y1="374.20" x2="384.28" y2="376.40" stroke="#231f20" stroke-width="1.2" />
<line x1="394.28" y1="374.20" x2="394.28" y2="376.40" stroke="#231f20" stroke-width="1.2" />
<line x1="404.27" y1="374.20" x2="404.27" y2="376.40" stroke="#231f20" stroke-width="1.2" />
<line x1="414.27" y1="374.20" x2="414.27" y2="377.90" stroke="#231f20" stroke-width="1.6" />
<line x1="424.27" y1="374.20" x2="424.27" y2="376.40" stroke="#231f20" stroke-width="1.2" />
<line x1="434.26" y1="374.20" x2="434.26" y2="376.40" stroke="#231f20" stroke-width="1.2" />
<line x1="444.26" y1="374.20" x2="444.26" y2="376.40" stroke="#231f20" stroke-width="1.2" />
<line x1="454.26" y1="374.20" x2="454.26" y2="376.40" stroke="#231f20" stroke-width="1.2" />
<line x1="464.25" y1="374.20" x2="464.25" y2="377.90" stroke="#231f20" stroke-width="1.6" />
<text x="306.30" y="379.40" font-size="14.5" text-anchor="end" >0</text>
<text x="306.30" y="329.40" font-size="14.5" text-anchor="end" >5</text>
<text x="306.30" y="279.40" font-size="14.5" text-anchor="end" >10</text>
<text x="320.40" y="391.30" font-size="14.5" text-anchor="middle" >20</text>
<text x="364.29" y="391.30" font-size="14.5" text-anchor="middle" >25</text>
<text x="414.27" y="391.30" font-size="14.5" text-anchor="middle" >30</text>
<text x="464.25" y="391.30" font-size="14.5" text-anchor="middle" >35</text>
<text x="394.60" y="407.10" font-size="14.5" text-anchor="middle" >Retention time [min]</text>
<text transform="translate(270.30,320.20) rotate(-90)" font-size="14.5" text-anchor="middle" >Absorbance [mAU]</text>
<text transform="translate(287.90,320.00) rotate(-90)" font-size="14.6" text-anchor="middle" >λ 254nM</text>
<text x="411.50" y="246.40" font-size="13.9" font-weight="bold" fill="#e81b30" >t6A peak</text>
<text x="472.10" y="302.30" font-size="13.7" font-weight="bold" >tRNA:</text>
<text x="472.50" y="323.60" font-size="13.9" fill="#2f3988" >G26U</text>
<text x="472.50" y="338.90" font-size="13.9" fill="#10723b" >G26C</text>
<text x="472.50" y="353.80" font-size="13.9" fill="#f07f30" >G26A</text>
<text x="472.50" y="368.70" font-size="13.9" fill="#3c62b2" >WT</text>
<text x="0.40" y="480.60" font-size="29.5" font-weight="bold" >D</text>
<text x="101.50" y="467.30" font-size="13.9" >tRNA CD Spectra</text>
<clipPath id="clipD"><rect x="70.4" y="480.4" width="175" height="153.5"/></clipPath>
<g clip-path="url(#clipD)">
<path d="M70.40,537.99 L71.28,540.96 L72.15,544.24 L73.03,547.80 L73.90,551.60 L74.78,555.92 L75.65,560.82 L76.53,565.88 L77.40,570.71 L78.28,575.39 L79.15,580.10 L80.03,584.53 L80.90,588.40 L81.78,591.87 L82.65,595.14 L83.53,597.91 L84.40,599.89 L85.28,601.36 L86.15,602.66 L87.03,603.58 L87.90,603.93 L88.78,603.73 L89.65,603.21 L90.53,602.46 L91.40,601.61 L92.28,600.40 L93.15,598.66 L94.03,596.65 L94.90,593.86 L95.78,591.03 L96.65,588.07 L97.53,585.18 L98.40,582.54 L99.28,580.13 L100.15,577.85 L101.03,575.74 L101.90,573.84 L102.78,572.11 L103.65,570.51 L104.53,569.10 L105.40,567.94 L106.28,567.27 L107.15,566.67 L108.03,566.19 L108.90,565.89 L109.78,565.70 L110.65,565.54 L111.53,565.41 L112.40,565.30 L113.28,565.23 L114.15,565.21 L115.03,565.21 L115.90,565.23 L116.78,565.25 L117.65,565.29 L118.53,565.33 L119.40,565.38 L120.28,565.45 L121.15,565.55 L122.03,565.66 L122.90,565.78 L123.78,565.90 L124.65,566.00 L125.53,566.08 L126.40,566.18 L127.28,566.27 L128.15,566.34 L129.03,566.39 L129.90,566.41 L130.78,566.35 L131.65,566.20 L132.53,565.97 L133.40,565.69 L134.28,565.39 L135.15,565.10 L136.03,564.78 L136.90,564.42 L137.78,564.11 L138.65,563.80 L139.53,563.47 L140.40,563.14 L141.28,562.98 L142.15,562.82 L143.03,562.64 L143.90,562.44 L144.78,562.21 L145.65,561.95 L146.53,561.68 L147.40,561.39 L148.28,561.08 L149.15,560.76 L150.03,560.44 L150.90,560.10 L151.78,559.62 L152.65,559.08 L153.53,558.48 L154.40,557.79 L155.28,556.90 L156.15,555.94 L157.03,554.92 L157.90,553.87 L158.78,552.78 L159.65,551.64 L160.53,550.44 L161.40,549.22 L162.28,547.99 L163.15,546.73 L164.03,545.47 L164.90,544.19 L165.78,542.88 L166.65,541.56 L167.53,540.21 L168.40,538.85 L169.28,537.47 L170.15,536.09 L171.03,534.69 L171.90,533.26 L172.78,531.82 L173.65,530.38 L174.53,528.97 L175.40,527.59 L176.28,526.23 L177.15,524.87 L178.03,523.53 L178.90,522.22 L179.78,520.99 L180.65,519.83 L181.53,518.70 L182.40,517.59 L183.28,516.62 L184.15,515.90 L185.03,515.34 L185.90,514.84 L186.78,514.48 L187.65,514.34 L188.53,514.43 L189.40,514.65 L190.28,514.97 L191.15,515.35 L192.03,515.94 L192.90,516.81 L193.78,517.83 L194.65,518.88 L195.53,519.95 L196.40,521.11 L197.28,522.33 L198.15,523.60 L199.03,524.88 L199.90,526.15 L200.78,527.42 L201.65,528.73 L202.53,530.05 L203.40,531.37 L204.28,532.66 L205.15,533.91 L206.03,535.13 L206.90,536.34 L207.78,537.52 L208.65,538.69 L209.53,539.82 L210.40,540.91 L211.28,541.97 L212.15,543.01 L213.03,544.03 L213.90,545.01 L214.78,545.97 L215.65,546.90 L216.53,547.80 L217.40,548.69 L218.28,549.54 L219.15,550.38 L220.03,551.18 L220.90,551.96 L221.78,552.71 L222.65,553.43 L223.53,554.14 L224.40,554.82 L225.28,555.47 L226.15,556.09 L227.03,556.69 L227.90,557.28 L228.78,557.85 L229.65,558.39 L230.53,558.88 L231.40,559.31 L232.28,559.70 L233.15,560.06 L234.03,560.40 L234.90,560.71 L235.78,560.99 L236.65,561.22 L237.53,561.44 L238.40,561.67 L239.28,561.87 L240.15,562.04 L241.03,562.16 L241.90,562.20 L242.78,562.20 L243.65,562.19 L244.53,562.18 L245.40,562.17" fill="none" stroke="#3f4245" stroke-width="1.9" stroke-linejoin="round" />
<path d="M70.40,539.08 L71.28,541.92 L72.15,545.11 L73.03,548.62 L73.90,552.40 L74.78,556.72 L75.65,561.62 L76.53,566.73 L77.40,571.62 L78.28,576.41 L79.15,581.26 L80.03,585.84 L80.90,589.83 L81.78,593.43 L82.65,596.81 L83.53,599.68 L84.40,601.75 L85.28,603.31 L86.15,604.69 L87.03,605.68 L87.90,606.06 L88.78,605.86 L89.65,605.33 L90.53,604.58 L91.40,603.71 L92.28,602.46 L93.15,600.66 L94.03,598.55 L94.90,595.54 L95.78,592.48 L96.65,589.30 L97.53,586.21 L98.40,583.39 L99.28,580.83 L100.15,578.41 L101.03,576.18 L101.90,574.17 L102.78,572.35 L103.65,570.66 L104.53,569.17 L105.40,567.94 L106.28,567.27 L107.15,566.67 L108.03,566.19 L108.90,565.89 L109.78,565.70 L110.65,565.54 L111.53,565.41 L112.40,565.30 L113.28,565.23 L114.15,565.21 L115.03,565.21 L115.90,565.23 L116.78,565.25 L117.65,565.29 L118.53,565.33 L119.40,565.38 L120.28,565.45 L121.15,565.55 L122.03,565.66 L122.90,565.78 L123.78,565.90 L124.65,566.00 L125.53,566.08 L126.40,566.18 L127.28,566.27 L128.15,566.34 L129.03,566.39 L129.90,566.41 L130.78,566.35 L131.65,566.20 L132.53,565.97 L133.40,565.69 L134.28,565.39 L135.15,565.10 L136.03,564.78 L136.90,564.42 L137.78,564.08 L138.65,563.72 L139.53,563.35 L140.40,563.11 L141.28,563.04 L142.15,562.95 L143.03,562.81 L143.90,562.64 L144.78,562.42 L145.65,562.18 L146.53,561.90 L147.40,561.60 L148.28,561.28 L149.15,560.94 L150.03,560.56 L150.90,560.15 L151.78,559.58 L152.65,558.91 L153.53,558.07 L154.40,557.01 L155.28,555.86 L156.15,554.67 L157.03,553.44 L157.90,552.17 L158.78,550.86 L159.65,549.53 L160.53,548.20 L161.40,546.88 L162.28,545.55 L163.15,544.20 L164.03,542.84 L164.90,541.45 L165.78,540.04 L166.65,538.62 L167.53,537.17 L168.40,535.72 L169.28,534.24 L170.15,532.73 L171.03,531.20 L171.90,529.65 L172.78,528.11 L173.65,526.60 L174.53,525.12 L175.40,523.65 L176.28,522.18 L177.15,520.74 L178.03,519.35 L178.90,518.03 L179.78,516.77 L180.65,515.52 L181.53,514.35 L182.40,513.37 L183.28,512.62 L184.15,511.99 L185.03,511.46 L185.90,511.14 L186.78,511.07 L187.65,511.22 L188.53,511.50 L189.40,511.87 L190.28,512.36 L191.15,513.11 L192.03,514.12 L192.90,515.24 L193.78,516.38 L194.65,517.57 L195.53,518.85 L196.40,520.19 L197.28,521.56 L198.15,522.94 L199.03,524.31 L199.90,525.71 L200.78,527.14 L201.65,528.58 L202.53,530.01 L203.40,531.39 L204.28,532.73 L205.15,534.03 L206.03,535.30 L206.90,536.55 L207.78,537.77 L208.65,538.96 L209.53,540.11 L210.40,541.24 L211.28,542.33 L212.15,543.40 L213.03,544.44 L213.90,545.45 L214.78,546.43 L215.65,547.38 L216.53,548.30 L217.40,549.20 L218.28,550.07 L219.15,550.90 L220.03,551.70 L220.90,552.47 L221.78,553.21 L222.65,553.93 L223.53,554.62 L224.40,555.29 L225.28,555.95 L226.15,556.60 L227.03,557.24 L227.90,557.85 L228.78,558.43 L229.65,558.96 L230.53,559.43 L231.40,559.87 L232.28,560.29 L233.15,560.67 L234.03,561.02 L234.90,561.33 L235.78,561.61 L236.65,561.89 L237.53,562.15 L238.40,562.39 L239.28,562.58 L240.15,562.68 L241.03,562.71 L241.90,562.71 L242.78,562.71 L243.65,562.71 L244.53,562.68 L245.40,562.59" fill="none" stroke="#474b4f" stroke-width="1.9" stroke-linejoin="round" />
<path d="M70.40,536.89 L71.28,539.79 L72.15,543.00 L73.03,546.47 L73.90,550.18 L74.78,554.42 L75.65,559.21 L76.53,564.15 L77.40,568.79 L78.28,573.21 L79.15,577.60 L80.03,581.70 L80.90,585.27 L81.78,588.48 L82.65,591.49 L83.53,594.02 L84.40,595.80 L85.28,597.07 L86.15,598.18 L87.03,598.96 L87.90,599.26 L88.78,599.06 L89.65,598.54 L90.53,597.81 L91.40,596.98 L92.28,595.85 L93.15,594.27 L94.03,592.45 L94.90,590.45 L95.78,588.36 L96.65,586.10 L97.53,583.83 L98.40,581.74 L99.28,579.80 L100.15,577.93 L101.03,576.18 L101.90,574.60 L102.78,573.15 L103.65,571.78 L104.53,570.57 L105.40,569.61 L106.28,568.87 L107.15,568.22 L108.03,567.70 L108.90,567.37 L109.78,567.18 L110.65,567.01 L111.53,566.87 L112.40,566.76 L113.28,566.69 L114.15,566.65 L115.03,566.64 L115.90,566.64 L116.78,566.65 L117.65,566.68 L118.53,566.70 L119.40,566.74 L120.28,566.80 L121.15,566.88 L122.03,566.98 L122.90,567.08 L123.78,567.18 L124.65,567.27 L125.53,567.34 L126.40,567.43 L127.28,567.51 L128.15,567.57 L129.03,567.62 L129.90,567.64 L130.78,567.58 L131.65,567.42 L132.53,567.19 L133.40,566.92 L134.28,566.62 L135.15,566.32 L136.03,566.01 L136.90,565.65 L137.78,565.29 L138.65,564.91 L139.53,564.51 L140.40,564.16 L141.28,563.83 L142.15,563.46 L143.03,563.06 L143.90,562.62 L144.78,562.16 L145.65,561.69 L146.53,561.21 L147.40,560.72 L148.28,560.23 L149.15,559.73 L150.03,559.20 L150.90,558.64 L151.78,557.96 L152.65,557.19 L153.53,556.33 L154.40,555.40 L155.28,554.43 L156.15,553.43 L157.03,552.38 L157.90,551.28 L158.78,550.12 L159.65,548.93 L160.53,547.72 L161.40,546.49 L162.28,545.24 L163.15,543.98 L164.03,542.70 L164.90,541.39 L165.78,540.07 L166.65,538.73 L167.53,537.38 L168.40,536.03 L169.28,534.65 L170.15,533.26 L171.03,531.86 L171.90,530.47 L172.78,529.11 L173.65,527.79 L174.53,526.47 L175.40,525.16 L176.28,523.88 L177.15,522.64 L178.03,521.48 L178.90,520.38 L179.78,519.30 L180.65,518.29 L181.53,517.47 L182.40,516.85 L183.28,516.35 L184.15,515.94 L185.03,515.69 L185.90,515.65 L186.78,515.78 L187.65,516.04 L188.53,516.38 L189.40,516.83 L190.28,517.51 L191.15,518.41 L192.03,519.41 L192.90,520.43 L193.78,521.50 L194.65,522.65 L195.53,523.86 L196.40,525.10 L197.28,526.33 L198.15,527.56 L199.03,528.81 L199.90,530.07 L200.78,531.34 L201.65,532.60 L202.53,533.84 L203.40,535.04 L204.28,536.22 L205.15,537.39 L206.03,538.54 L206.90,539.66 L207.78,540.75 L208.65,541.81 L209.53,542.83 L210.40,543.83 L211.28,544.81 L212.15,545.76 L213.03,546.68 L213.90,547.58 L214.78,548.46 L215.65,549.31 L216.53,550.14 L217.40,550.94 L218.28,551.72 L219.15,552.47 L220.03,553.20 L220.90,553.91 L221.78,554.60 L222.65,555.26 L223.53,555.88 L224.40,556.47 L225.28,557.05 L226.15,557.61 L227.03,558.15 L227.90,558.64 L228.78,559.09 L229.65,559.48 L230.53,559.83 L231.40,560.17 L232.28,560.47 L233.15,560.74 L234.03,560.98 L234.90,561.19 L235.78,561.40 L236.65,561.59 L237.53,561.77 L238.40,561.90 L239.28,561.98 L240.15,562.00 L241.03,562.00 L241.90,561.99 L242.78,561.97 L243.65,561.94 L244.53,561.86 L245.40,561.73" fill="none" stroke="#9d4f91" stroke-width="1.9" stroke-linejoin="round" />
<path d="M70.40,537.99 L71.28,540.46 L72.15,543.34 L73.03,546.58 L73.90,550.11 L74.78,554.21 L75.65,558.90 L76.53,563.74 L77.40,568.28 L78.28,572.59 L79.15,576.86 L80.03,580.84 L80.90,584.30 L81.78,587.41 L82.65,590.34 L83.53,592.80 L84.40,594.50 L85.28,595.71 L86.15,596.75 L87.03,597.49 L87.90,597.77 L88.78,597.58 L89.65,597.06 L90.53,596.33 L91.40,595.51 L92.28,594.41 L93.15,592.88 L94.03,591.11 L94.90,589.34 L95.78,587.48 L96.65,585.42 L97.53,583.34 L98.40,581.41 L99.28,579.61 L100.15,577.86 L101.03,576.22 L101.90,574.74 L102.78,573.37 L103.65,572.07 L104.53,570.93 L105.40,570.02 L106.28,569.27 L107.15,568.61 L108.03,568.08 L108.90,567.75 L109.78,567.55 L110.65,567.38 L111.53,567.24 L112.40,567.13 L113.28,567.05 L114.15,567.01 L115.03,567.00 L115.90,567.00 L116.78,567.00 L117.65,567.02 L118.53,567.05 L119.40,567.08 L120.28,567.13 L121.15,567.21 L122.03,567.31 L122.90,567.41 L123.78,567.50 L124.65,567.58 L125.53,567.66 L126.40,567.74 L127.28,567.82 L128.15,567.88 L129.03,567.93 L129.90,567.94 L130.78,567.89 L131.65,567.73 L132.53,567.50 L133.40,567.22 L134.28,566.92 L135.15,566.63 L136.03,566.32 L136.90,565.96 L137.78,565.60 L138.65,565.22 L139.53,564.82 L140.40,564.43 L141.28,564.05 L142.15,563.63 L143.03,563.17 L143.90,562.68 L144.78,562.18 L145.65,561.66 L146.53,561.14 L147.40,560.63 L148.28,560.11 L149.15,559.58 L150.03,559.03 L150.90,558.46 L151.78,557.77 L152.65,557.02 L153.53,556.20 L154.40,555.31 L155.28,554.39 L156.15,553.43 L157.03,552.42 L157.90,551.36 L158.78,550.24 L159.65,549.07 L160.53,547.88 L161.40,546.67 L162.28,545.45 L163.15,544.21 L164.03,542.95 L164.90,541.66 L165.78,540.35 L166.65,539.03 L167.53,537.71 L168.40,536.38 L169.28,535.03 L170.15,533.66 L171.03,532.29 L171.90,530.93 L172.78,529.60 L173.65,528.30 L174.53,527.02 L175.40,525.74 L176.28,524.48 L177.15,523.28 L178.03,522.15 L178.90,521.08 L179.78,520.04 L180.65,519.06 L181.53,518.26 L182.40,517.67 L183.28,517.20 L184.15,516.81 L185.03,516.57 L185.90,516.53 L186.78,516.67 L187.65,516.92 L188.53,517.26 L189.40,517.70 L190.28,518.36 L191.15,519.24 L192.03,520.22 L192.90,521.22 L193.78,522.27 L194.65,523.40 L195.53,524.58 L196.40,525.79 L197.28,526.99 L198.15,528.19 L199.03,529.41 L199.90,530.64 L200.78,531.88 L201.65,533.11 L202.53,534.32 L203.40,535.49 L204.28,536.65 L205.15,537.80 L206.03,538.93 L206.90,540.03 L207.78,541.10 L208.65,542.14 L209.53,543.14 L210.40,544.13 L211.28,545.08 L212.15,546.02 L213.03,546.92 L213.90,547.80 L214.78,548.66 L215.65,549.50 L216.53,550.32 L217.40,551.11 L218.28,551.88 L219.15,552.62 L220.03,553.34 L220.90,554.05 L221.78,554.73 L222.65,555.38 L223.53,555.99 L224.40,556.58 L225.28,557.14 L226.15,557.69 L227.03,558.21 L227.90,558.69 L228.78,559.11 L229.65,559.49 L230.53,559.83 L231.40,560.14 L232.28,560.43 L233.15,560.69 L234.03,560.91 L234.90,561.11 L235.78,561.30 L236.65,561.48 L237.53,561.65 L238.40,561.77 L239.28,561.85 L240.15,561.87 L241.03,561.86 L241.90,561.85 L242.78,561.83 L243.65,561.79 L244.53,561.72 L245.40,561.59" fill="none" stroke="#3e86c8" stroke-width="1.9" stroke-linejoin="round" />
<path d="M70.40,534.70 L71.28,538.54 L72.15,542.43 L73.03,546.42 L73.90,550.52 L74.78,555.06 L75.65,560.11 L76.53,565.27 L77.40,570.14 L78.28,574.84 L79.15,579.53 L80.03,583.94 L80.90,587.77 L81.78,591.22 L82.65,594.45 L83.53,597.18 L84.40,599.13 L85.28,600.57 L86.15,601.83 L87.03,602.74 L87.90,603.08 L88.78,602.88 L89.65,602.36 L90.53,601.61 L91.40,600.77 L92.28,599.57 L93.15,597.86 L94.03,595.88 L94.90,593.47 L95.78,590.98 L96.65,588.32 L97.53,585.68 L98.40,583.26 L99.28,581.05 L100.15,578.94 L101.03,576.97 L101.90,575.20 L102.78,573.57 L103.65,572.04 L104.53,570.69 L105.40,569.61 L106.28,568.87 L107.15,568.22 L108.03,567.70 L108.90,567.37 L109.78,567.18 L110.65,567.01 L111.53,566.87 L112.40,566.76 L113.28,566.69 L114.15,566.65 L115.03,566.64 L115.90,566.64 L116.78,566.65 L117.65,566.68 L118.53,566.70 L119.40,566.74 L120.28,566.80 L121.15,566.88 L122.03,566.98 L122.90,567.08 L123.78,567.18 L124.65,567.27 L125.53,567.34 L126.40,567.43 L127.28,567.51 L128.15,567.57 L129.03,567.62 L129.90,567.64 L130.78,567.58 L131.65,567.42 L132.53,567.19 L133.40,566.92 L134.28,566.62 L135.15,566.32 L136.03,566.01 L136.90,565.65 L137.78,565.27 L138.65,564.85 L139.53,564.42 L140.40,564.08 L141.28,563.73 L142.15,563.33 L143.03,562.90 L143.90,562.43 L144.78,561.93 L145.65,561.43 L146.53,560.91 L147.40,560.40 L148.28,559.86 L149.15,559.30 L150.03,558.70 L150.90,558.04 L151.78,557.27 L152.65,556.38 L153.53,555.44 L154.40,554.45 L155.28,553.43 L156.15,552.36 L157.03,551.24 L157.90,550.07 L158.78,548.87 L159.65,547.65 L160.53,546.41 L161.40,545.16 L162.28,543.89 L163.15,542.60 L164.03,541.28 L164.90,539.95 L165.78,538.60 L166.65,537.24 L167.53,535.88 L168.40,534.49 L169.28,533.09 L170.15,531.67 L171.03,530.28 L171.90,528.91 L172.78,527.56 L173.65,526.23 L174.53,524.91 L175.40,523.61 L176.28,522.37 L177.15,521.19 L178.03,520.08 L178.90,518.99 L179.78,517.97 L180.65,517.12 L181.53,516.50 L182.40,515.99 L183.28,515.57 L184.15,515.31 L185.03,515.26 L185.90,515.40 L186.78,515.66 L187.65,516.00 L188.53,516.46 L189.40,517.14 L190.28,518.05 L191.15,519.06 L192.03,520.09 L192.90,521.17 L193.78,522.34 L194.65,523.56 L195.53,524.80 L196.40,526.05 L197.28,527.29 L198.15,528.55 L199.03,529.83 L199.90,531.11 L200.78,532.39 L201.65,533.64 L202.53,534.85 L203.40,536.04 L204.28,537.22 L205.15,538.37 L206.03,539.50 L206.90,540.60 L207.78,541.67 L208.65,542.70 L209.53,543.71 L210.40,544.69 L211.28,545.65 L212.15,546.58 L213.03,547.48 L213.90,548.37 L214.78,549.22 L215.65,550.06 L216.53,550.87 L217.40,551.65 L218.28,552.41 L219.15,553.14 L220.03,553.85 L220.90,554.54 L221.78,555.20 L222.65,555.83 L223.53,556.43 L224.40,557.01 L225.28,557.58 L226.15,558.12 L227.03,558.63 L227.90,559.08 L228.78,559.47 L229.65,559.84 L230.53,560.18 L231.40,560.49 L232.28,560.77 L233.15,561.01 L234.03,561.23 L234.90,561.44 L235.78,561.64 L236.65,561.82 L237.53,561.96 L238.40,562.04 L239.28,562.06 L240.15,562.06 L241.03,562.05 L241.90,562.03 L242.78,562.00 L243.65,561.92 L244.53,561.79 L245.40,561.62" fill="none" stroke="#138a8c" stroke-width="1.9" stroke-linejoin="round" />
<path d="M70.40,539.08 L71.28,542.09 L72.15,545.42 L73.03,549.04 L73.90,552.91 L74.78,557.31 L75.65,562.29 L76.53,567.46 L77.40,572.46 L78.28,577.38 L79.15,582.38 L80.03,587.11 L80.90,591.25 L81.78,594.96 L82.65,598.46 L83.53,601.44 L84.40,603.61 L85.28,605.26 L86.15,606.73 L87.03,607.78 L87.90,608.18 L88.78,607.98 L89.65,607.45 L90.53,606.69 L91.40,605.81 L92.28,604.53 L93.15,602.65 L94.03,600.46 L94.90,597.29 L95.78,594.07 L96.65,590.72 L97.53,587.46 L98.40,584.51 L99.28,581.82 L100.15,579.30 L101.03,576.97 L101.90,574.88 L102.78,572.96 L103.65,571.20 L104.53,569.64 L105.40,568.36 L106.28,567.67 L107.15,567.05 L108.03,566.56 L108.90,566.26 L109.78,566.07 L110.65,565.91 L111.53,565.77 L112.40,565.67 L113.28,565.60 L114.15,565.57 L115.03,565.57 L115.90,565.58 L116.78,565.60 L117.65,565.64 L118.53,565.68 L119.40,565.72 L120.28,565.79 L121.15,565.88 L122.03,565.99 L122.90,566.11 L123.78,566.22 L124.65,566.31 L125.53,566.40 L126.40,566.49 L127.28,566.58 L128.15,566.65 L129.03,566.70 L129.90,566.72 L130.78,566.66 L131.65,566.50 L132.53,566.27 L133.40,566.00 L134.28,565.70 L135.15,565.40 L136.03,565.09 L136.90,564.73 L137.78,564.41 L138.65,564.09 L139.53,563.75 L140.40,563.43 L141.28,563.29 L142.15,563.13 L143.03,562.95 L143.90,562.74 L144.78,562.50 L145.65,562.22 L146.53,561.93 L147.40,561.62 L148.28,561.30 L149.15,560.96 L150.03,560.61 L150.90,560.24 L151.78,559.72 L152.65,559.14 L153.53,558.48 L154.40,557.68 L155.28,556.71 L156.15,555.66 L157.03,554.56 L157.90,553.44 L158.78,552.26 L159.65,551.04 L160.53,549.79 L161.40,548.52 L162.28,547.25 L163.15,545.97 L164.03,544.67 L164.90,543.35 L165.78,542.01 L166.65,540.64 L167.53,539.26 L168.40,537.87 L169.28,536.46 L170.15,535.04 L171.03,533.59 L171.90,532.11 L172.78,530.63 L173.65,529.16 L174.53,527.72 L175.40,526.31 L176.28,524.90 L177.15,523.51 L178.03,522.14 L178.90,520.81 L179.78,519.56 L180.65,518.37 L181.53,517.20 L182.40,516.10 L183.28,515.19 L184.15,514.50 L185.03,513.93 L185.90,513.45 L186.78,513.16 L187.65,513.11 L188.53,513.25 L189.40,513.52 L190.28,513.87 L191.15,514.34 L192.03,515.06 L192.90,516.03 L193.78,517.09 L194.65,518.18 L195.53,519.32 L196.40,520.54 L197.28,521.82 L198.15,523.13 L199.03,524.45 L199.90,525.76 L200.78,527.09 L201.65,528.44 L202.53,529.81 L203.40,531.16 L204.28,532.48 L205.15,533.76 L206.03,535.00 L206.90,536.23 L207.78,537.44 L208.65,538.61 L209.53,539.76 L210.40,540.87 L211.28,541.95 L212.15,543.00 L213.03,544.03 L213.90,545.03 L214.78,546.00 L215.65,546.94 L216.53,547.86 L217.40,548.75 L218.28,549.62 L219.15,550.46 L220.03,551.26 L220.90,552.04 L221.78,552.79 L222.65,553.52 L223.53,554.23 L224.40,554.90 L225.28,555.55 L226.15,556.18 L227.03,556.80 L227.90,557.40 L228.78,557.98 L229.65,558.53 L230.53,559.02 L231.40,559.45 L232.28,559.86 L233.15,560.23 L234.03,560.58 L234.90,560.90 L235.78,561.18 L236.65,561.43 L237.53,561.67 L238.40,561.90 L239.28,562.11 L240.15,562.28 L241.03,562.37 L241.90,562.40 L242.78,562.40 L243.65,562.39 L244.53,562.38 L245.40,562.35" fill="none" stroke="#e8312f" stroke-width="1.9" stroke-linejoin="round" />
<path d="M70.40,535.80 L71.28,538.32 L72.15,541.20 L73.03,544.39 L73.90,547.84 L74.78,551.85 L75.65,556.42 L76.53,561.08 L77.40,565.36 L78.28,569.28 L79.15,573.09 L80.03,576.58 L80.90,579.60 L81.78,582.31 L82.65,584.86 L83.53,586.96 L84.40,588.36 L85.28,589.26 L86.15,590.03 L87.03,590.56 L87.90,590.76 L88.78,590.57 L89.65,590.06 L90.53,589.35 L91.40,588.57 L92.28,587.59 L93.15,586.29 L94.03,584.82 L94.90,583.32 L95.78,581.76 L96.65,580.07 L97.53,578.36 L98.40,576.75 L99.28,575.22 L100.15,573.72 L101.03,572.31 L101.90,571.05 L102.78,569.91 L103.65,568.83 L104.53,567.88 L105.40,567.11 L106.28,566.47 L107.15,565.89 L108.03,565.43 L108.90,565.14 L109.78,564.96 L110.65,564.80 L111.53,564.67 L112.40,564.57 L113.28,564.51 L114.15,564.48 L115.03,564.49 L115.90,564.52 L116.78,564.55 L117.65,564.60 L118.53,564.65 L119.40,564.70 L120.28,564.78 L121.15,564.88 L122.03,565.01 L122.90,565.14 L123.78,565.26 L124.65,565.36 L125.53,565.45 L126.40,565.55 L127.28,565.64 L128.15,565.72 L129.03,565.78 L129.90,565.80 L130.78,565.74 L131.65,565.58 L132.53,565.35 L133.40,565.08 L134.28,564.78 L135.15,564.48 L136.03,564.17 L136.90,563.80 L137.78,563.39 L138.65,562.96 L139.53,562.52 L140.40,562.08 L141.28,561.63 L142.15,561.17 L143.03,560.69 L143.90,560.21 L144.78,559.72 L145.65,559.23 L146.53,558.74 L147.40,558.25 L148.28,557.76 L149.15,557.25 L150.03,556.72 L150.90,556.16 L151.78,555.58 L152.65,554.98 L153.53,554.36 L154.40,553.70 L155.28,552.99 L156.15,552.22 L157.03,551.36 L157.90,550.40 L158.78,549.37 L159.65,548.29 L160.53,547.19 L161.40,546.09 L162.28,544.97 L163.15,543.82 L164.03,542.64 L164.90,541.45 L165.78,540.26 L166.65,539.08 L167.53,537.90 L168.40,536.71 L169.28,535.52 L170.15,534.34 L171.03,533.19 L171.90,532.07 L172.78,530.98 L173.65,529.88 L174.53,528.81 L175.40,527.78 L176.28,526.82 L177.15,525.94 L178.03,525.09 L178.90,524.27 L179.78,523.57 L180.65,523.09 L181.53,522.77 L182.40,522.49 L183.28,522.29 L184.15,522.22 L185.03,522.29 L185.90,522.49 L186.78,522.77 L187.65,523.09 L188.53,523.57 L189.40,524.28 L190.28,525.10 L191.15,525.94 L192.03,526.81 L192.90,527.75 L193.78,528.76 L194.65,529.79 L195.53,530.83 L196.40,531.85 L197.28,532.86 L198.15,533.89 L199.03,534.92 L199.90,535.95 L200.78,536.97 L201.65,537.99 L202.53,538.99 L203.40,540.01 L204.28,541.01 L205.15,542.01 L206.03,542.97 L206.90,543.90 L207.78,544.79 L208.65,545.66 L209.53,546.51 L210.40,547.34 L211.28,548.15 L212.15,548.94 L213.03,549.71 L213.90,550.47 L214.78,551.21 L215.65,551.93 L216.53,552.63 L217.40,553.32 L218.28,553.99 L219.15,554.66 L220.03,555.31 L220.90,555.94 L221.78,556.52 L222.65,557.04 L223.53,557.52 L224.40,557.98 L225.28,558.42 L226.15,558.82 L227.03,559.16 L227.90,559.45 L228.78,559.69 L229.65,559.91 L230.53,560.10 L231.40,560.28 L232.28,560.42 L233.15,560.54 L234.03,560.65 L234.90,560.75 L235.78,560.84 L236.65,560.91 L237.53,560.96 L238.40,560.98 L239.28,560.98 L240.15,560.96 L241.03,560.93 L241.90,560.89 L242.78,560.83 L243.65,560.75 L244.53,560.66 L245.40,560.54" fill="none" stroke="#5bb65c" stroke-width="1.9" stroke-linejoin="round" />
<path d="M70.40,541.27 L71.28,543.97 L72.15,547.10 L73.03,550.60 L73.90,554.41 L74.78,558.78 L75.65,563.77 L76.53,569.01 L77.40,574.12 L78.28,579.23 L79.15,584.47 L80.03,589.46 L80.90,593.83 L81.78,597.76 L82.65,601.46 L83.53,604.63 L84.40,606.97 L85.28,608.78 L86.15,610.40 L87.03,611.56 L87.90,612.01 L88.78,611.80 L89.65,611.27 L90.53,610.50 L91.40,609.60 L92.28,608.25 L93.15,606.25 L94.03,603.90 L94.90,601.50 L95.78,598.93 L96.65,596.07 L97.53,593.19 L98.40,590.55 L99.28,588.15 L100.15,585.87 L101.03,583.73 L101.90,581.78 L102.78,579.94 L103.65,578.18 L104.53,576.63 L105.40,575.43 L106.28,574.48 L107.15,573.65 L108.03,572.99 L108.90,572.59 L109.78,572.35 L110.65,572.16 L111.53,572.00 L112.40,571.88 L113.28,571.78 L114.15,571.71 L115.03,571.65 L115.90,571.60 L116.78,571.56 L117.65,571.52 L118.53,571.50 L119.40,571.49 L120.28,571.50 L121.15,571.53 L122.03,571.57 L122.90,571.62 L123.78,571.67 L124.65,571.71 L125.53,571.75 L126.40,571.80 L127.28,571.85 L128.15,571.89 L129.03,571.92 L129.90,571.93 L130.78,571.87 L131.65,571.72 L132.53,571.49 L133.40,571.21 L134.28,570.91 L135.15,570.62 L136.03,570.31 L136.90,569.97 L137.78,569.59 L138.65,569.17 L139.53,568.71 L140.40,568.21 L141.28,567.63 L142.15,566.96 L143.03,566.21 L143.90,565.43 L144.78,564.62 L145.65,563.83 L146.53,563.05 L147.40,562.27 L148.28,561.47 L149.15,560.64 L150.03,559.75 L150.90,558.79 L151.78,557.71 L152.65,556.52 L153.53,555.26 L154.40,553.97 L155.28,552.65 L156.15,551.28 L157.03,549.88 L157.90,548.50 L158.78,547.14 L159.65,545.78 L160.53,544.41 L161.40,543.02 L162.28,541.60 L163.15,540.17 L164.03,538.72 L164.90,537.25 L165.78,535.77 L166.65,534.26 L167.53,532.72 L168.40,531.15 L169.28,529.55 L170.15,527.96 L171.03,526.38 L171.90,524.85 L172.78,523.32 L173.65,521.80 L174.53,520.29 L175.40,518.82 L176.28,517.41 L177.15,516.09 L178.03,514.78 L178.90,513.49 L179.78,512.35 L180.65,511.49 L181.53,510.79 L182.40,510.16 L183.28,509.69 L184.15,509.52 L185.03,509.61 L185.90,509.85 L186.78,510.20 L187.65,510.61 L188.53,511.26 L189.40,512.23 L190.28,513.38 L191.15,514.55 L192.03,515.74 L192.90,517.03 L193.78,518.40 L194.65,519.81 L195.53,521.24 L196.40,522.65 L197.28,524.09 L198.15,525.57 L199.03,527.07 L199.90,528.56 L200.78,530.01 L201.65,531.42 L202.53,532.77 L203.40,534.09 L204.28,535.39 L205.15,536.65 L206.03,537.88 L206.90,539.08 L207.78,540.25 L208.65,541.39 L209.53,542.50 L210.40,543.59 L211.28,544.64 L212.15,545.65 L213.03,546.63 L213.90,547.59 L214.78,548.53 L215.65,549.43 L216.53,550.29 L217.40,551.12 L218.28,551.92 L219.15,552.68 L220.03,553.42 L220.90,554.13 L221.78,554.83 L222.65,555.50 L223.53,556.18 L224.40,556.85 L225.28,557.50 L226.15,558.13 L227.03,558.71 L227.90,559.23 L228.78,559.71 L229.65,560.16 L230.53,560.59 L231.40,560.98 L232.28,561.33 L233.15,561.64 L234.03,561.93 L234.90,562.23 L235.78,562.51 L236.65,562.74 L237.53,562.89 L238.40,562.95 L239.28,562.95 L240.15,562.95 L241.03,562.95 L241.90,562.95 L242.78,562.89 L243.65,562.75 L244.53,562.54 L245.40,562.29" fill="none" stroke="#b4b636" stroke-width="1.9" stroke-linejoin="round" />
</g>
<line x1="72.5" y1="556.60" x2="245.4" y2="556.60" stroke="#231f20" stroke-width="2" stroke-dasharray="1.8,1.7"/>
<line x1="70.40" y1="480.40" x2="245.40" y2="480.40" stroke="#231f20" stroke-width="1.3" />
<line x1="245.40" y1="480.40" x2="245.40" y2="633.90" stroke="#231f20" stroke-width="1.3" />
<line x1="70.40" y1="479.80" x2="70.40" y2="634.70" stroke="#231f20" stroke-width="1.6" />
<line x1="69.60" y1="633.90" x2="246.00" y2="633.90" stroke="#231f20" stroke-width="1.6" />
<line x1="64.10" y1="490.90" x2="70.40" y2="490.90" stroke="#231f20" stroke-width="1.6" />
<text x="62.20" y="496.00" font-size="14.2" text-anchor="end" >30</text>
<line x1="64.10" y1="512.80" x2="70.40" y2="512.80" stroke="#231f20" stroke-width="1.6" />
<text x="62.20" y="517.90" font-size="14.2" text-anchor="end" >20</text>
<line x1="64.10" y1="534.70" x2="70.40" y2="534.70" stroke="#231f20" stroke-width="1.6" />
<text x="62.20" y="539.80" font-size="14.2" text-anchor="end" >10</text>
<line x1="64.10" y1="578.50" x2="70.40" y2="578.50" stroke="#231f20" stroke-width="1.6" />
<text x="62.20" y="583.60" font-size="14.2" text-anchor="end" >-10</text>
<line x1="64.10" y1="600.40" x2="70.40" y2="600.40" stroke="#231f20" stroke-width="1.6" />
<text x="62.20" y="605.50" font-size="14.2" text-anchor="end" >-20</text>
<line x1="64.10" y1="622.30" x2="70.40" y2="622.30" stroke="#231f20" stroke-width="1.6" />
<text x="62.20" y="627.40" font-size="14.2" text-anchor="end" >-30</text>
<line x1="65.00" y1="556.60" x2="70.40" y2="556.60" stroke="#231f20" stroke-width="1.6" />
<text x="59.80" y="560.50" font-size="11.2" text-anchor="end" >0</text>
<line x1="70.40" y1="633.90" x2="70.40" y2="638.70" stroke="#231f20" stroke-width="1.6" />
<line x1="114.15" y1="633.90" x2="114.15" y2="636.80" stroke="#231f20" stroke-width="1.3" />
<line x1="157.90" y1="633.90" x2="157.90" y2="638.70" stroke="#231f20" stroke-width="1.6" />
<line x1="201.65" y1="633.90" x2="201.65" y2="636.80" stroke="#231f20" stroke-width="1.3" />
<line x1="245.40" y1="633.90" x2="245.40" y2="638.70" stroke="#231f20" stroke-width="1.6" />
<text x="70.70" y="653.50" font-size="14.3" text-anchor="middle" >200</text>
<text x="158.20" y="653.50" font-size="14.3" text-anchor="middle" >250</text>
<text x="245.70" y="653.50" font-size="14.3" text-anchor="middle" >300</text>
<text x="163.00" y="670.70" font-size="14.0" text-anchor="middle" >Wavelength (nm)</text>
<text transform="translate(33.70,552.40) rotate(-90)" font-size="13.9" text-anchor="middle" >CD (mDeg)</text>
<text x="297.50" y="470.40" font-size="14.0" >tRNA</text>
<circle cx="295.00" cy="491.40" r="4.0" fill="#b4b636"/>
<text x="306.20" y="496.00" font-size="14.1" >WT</text>
<circle cx="295.00" cy="512.83" r="4.0" fill="#474b4f"/>
<text x="306.20" y="517.43" font-size="14.1" >C10U+U11C</text>
<circle cx="295.00" cy="534.26" r="4.0" fill="#e8312f"/>
<text x="306.40" y="538.86" font-size="14.1" >G24A</text>
<circle cx="295.00" cy="555.69" r="4.0" fill="#9d4f91"/>
<text x="307.50" y="560.29" font-size="14.1" >C25A</text>
<circle cx="295.00" cy="577.12" r="4.0" fill="#3e86c8"/>
<text x="307.30" y="581.72" font-size="14.1" >G26A</text>
<circle cx="295.00" cy="598.55" r="4.0" fill="#138a8c"/>
<text x="307.30" y="603.15" font-size="14.1" >G26C</text>
<circle cx="295.00" cy="619.98" r="4.0" fill="#5bb65c"/>
<text x="307.30" y="624.58" font-size="14.1" >G26U</text>
<circle cx="295.00" cy="641.41" r="4.0" fill="#474b4f"/>
<text x="307.30" y="646.01" font-size="14.1" >G45U</text>
<text x="0.20" y="725.00" font-size="29.5" font-weight="bold" >E</text>
<line x1="106.00" y1="733.80" x2="106.00" y2="838.60" stroke="#231f20" stroke-width="1.6" />
<line x1="98.00" y1="837.80" x2="195.40" y2="837.80" stroke="#231f20" stroke-width="1.6" />
<line x1="97.00" y1="837.80" x2="106.00" y2="837.80" stroke="#231f20" stroke-width="1.6" />
<text x="96.70" y="843.00" font-size="14.5" text-anchor="end" >0.00</text>
<line x1="97.00" y1="817.00" x2="106.00" y2="817.00" stroke="#231f20" stroke-width="1.6" />
<text x="96.70" y="822.20" font-size="14.5" text-anchor="end" >0.01</text>
<line x1="97.00" y1="796.20" x2="106.00" y2="796.20" stroke="#231f20" stroke-width="1.6" />
<text x="96.70" y="801.40" font-size="14.5" text-anchor="end" >0.02</text>
<line x1="97.00" y1="775.40" x2="106.00" y2="775.40" stroke="#231f20" stroke-width="1.6" />
<text x="96.70" y="780.60" font-size="14.5" text-anchor="end" >0.03</text>
<line x1="97.00" y1="754.60" x2="106.00" y2="754.60" stroke="#231f20" stroke-width="1.6" />
<text x="96.70" y="759.80" font-size="14.5" text-anchor="end" >0.04</text>
<line x1="97.00" y1="733.80" x2="106.00" y2="733.80" stroke="#231f20" stroke-width="1.6" />
<text x="96.70" y="739.00" font-size="14.5" text-anchor="end" >0.05</text>
<text transform="translate(56.00,785.60) rotate(-90)" font-size="13.9" text-anchor="middle" >Normalized t6A</text>
<rect x="115.45" y="747.60" width="16.70" height="90.20" fill="#fff" stroke="#231f20" stroke-width="1.5"/>
<line x1="123.80" y1="837.80" x2="123.80" y2="845.70" stroke="#231f20" stroke-width="1.6" />
<line x1="118.30" y1="747.60" x2="129.30" y2="747.60" stroke="#231f20" stroke-width="2.0" />
<circle cx="117.20" cy="747.60" r="2.3" fill="#231f20"/>
<circle cx="123.80" cy="747.60" r="2.3" fill="#231f20"/>
<circle cx="130.40" cy="747.60" r="2.3" fill="#231f20"/>
<rect x="142.45" y="797.00" width="16.70" height="40.80" fill="#fff" stroke="#231f20" stroke-width="1.5"/>
<line x1="150.80" y1="837.80" x2="150.80" y2="845.70" stroke="#231f20" stroke-width="1.6" />
<line x1="145.30" y1="797.00" x2="156.30" y2="797.00" stroke="#231f20" stroke-width="2.0" />
<circle cx="144.20" cy="797.00" r="2.3" fill="#231f20"/>
<circle cx="150.80" cy="797.00" r="2.3" fill="#231f20"/>
<circle cx="157.40" cy="797.00" r="2.3" fill="#231f20"/>
<rect x="169.55" y="809.40" width="16.70" height="28.40" fill="#fff" stroke="#231f20" stroke-width="1.5"/>
<line x1="177.90" y1="837.80" x2="177.90" y2="845.70" stroke="#231f20" stroke-width="1.6" />
<line x1="172.40" y1="809.40" x2="183.40" y2="809.40" stroke="#231f20" stroke-width="2.0" />
<circle cx="171.30" cy="809.40" r="2.3" fill="#231f20"/>
<circle cx="177.90" cy="809.40" r="2.3" fill="#231f20"/>
<circle cx="184.50" cy="809.40" r="2.3" fill="#231f20"/>
<text transform="translate(127.70,976.20) rotate(-90)" font-size="13.7" fill="#f07f30" >Non-methylated</text>
<text transform="translate(153.70,976.20) rotate(-90)" font-size="14.25" fill="#10723b" >Methylated- batch 1</text>
<text transform="translate(180.30,976.20) rotate(-90)" font-size="14.3" fill="#2f3988" >Methylated- batch 2</text>
<clipPath id="clipE"><rect x="347.7" y="741.0" width="171.8" height="123.10000000000002"/></clipPath>
<g clip-path="url(#clipE)">
<path d="M347.70,813.86 L347.95,815.75 L348.20,818.54 L348.45,821.23 L348.70,823.80 L348.95,826.22 L349.20,828.48 L349.45,830.55 L349.70,832.40 L349.95,834.04 L350.20,835.52 L350.45,836.90 L350.70,838.22 L350.95,839.48 L351.20,840.66 L351.45,841.77 L351.70,842.80 L351.95,843.75 L352.20,844.60 L352.45,845.36 L352.70,846.01 L352.95,846.57 L353.20,847.06 L353.45,847.51 L353.70,847.92 L353.95,848.30 L354.20,848.63 L354.45,848.90 L354.70,849.08 L354.95,849.18 L355.20,849.22 L355.45,849.24 L355.70,849.30 L355.95,849.45 L356.20,849.73 L356.45,850.11 L356.70,850.56 L356.95,851.01 L357.20,851.41 L357.45,851.73 L357.70,851.96 L357.95,852.12 L358.20,852.21 L358.45,852.25 L358.70,852.22 L358.95,852.14 L359.20,852.03 L359.45,851.91 L359.70,851.83 L359.95,851.82 L360.20,851.90 L360.45,852.07 L360.70,852.29 L360.95,852.53 L361.20,852.75 L361.45,852.92 L361.70,853.06 L361.95,853.16 L362.20,853.23 L362.45,853.30 L362.70,853.35 L362.95,853.41 L363.20,853.46 L363.45,853.52 L363.70,853.58 L363.95,853.64 L364.20,853.70 L364.45,853.77 L364.70,853.84 L364.95,853.91 L365.20,853.98 L365.45,854.05 L365.70,854.12 L365.95,854.19 L366.20,854.26 L366.45,854.34 L366.70,854.41 L366.95,854.48 L367.20,854.55 L367.45,854.62 L367.70,854.68 L367.95,854.75 L368.20,854.82 L368.45,854.88 L368.70,854.94 L368.95,854.99 L369.20,855.04 L369.45,855.09 L369.70,855.12 L369.95,855.14 L370.20,855.14 L370.45,855.12 L370.70,855.09 L370.95,855.04 L371.20,855.00 L371.45,854.96 L371.70,854.94 L371.95,854.96 L372.20,855.01 L372.45,855.10 L372.70,855.21 L372.95,855.34 L373.20,855.47 L373.45,855.59 L373.70,855.69 L373.95,855.78 L374.20,855.85 L374.45,855.91 L374.70,855.96 L374.95,856.00 L375.20,856.04 L375.45,856.08 L375.70,856.11 L375.95,856.14 L376.20,856.18 L376.45,856.21 L376.70,856.24 L376.95,856.27 L377.20,856.30 L377.45,856.33 L377.70,856.36 L377.95,856.39 L378.20,856.42 L378.45,856.45 L378.70,856.48 L378.95,856.51 L379.20,856.54 L379.45,856.56 L379.70,856.59 L379.95,856.62 L380.20,856.65 L380.45,856.67 L380.70,856.70 L380.95,856.73 L381.20,856.75 L381.45,856.78 L381.70,856.81 L381.95,856.84 L382.20,856.87 L382.45,856.90 L382.70,856.93 L382.95,856.96 L383.20,856.99 L383.45,857.02 L383.70,857.04 L383.95,857.07 L384.20,857.10 L384.45,857.13 L384.70,857.16 L384.95,857.19 L385.20,857.21 L385.45,857.24 L385.70,857.26 L385.95,857.29 L386.20,857.31 L386.45,857.33 L386.70,857.35 L386.95,857.37 L387.20,857.39 L387.45,857.41 L387.70,857.43 L387.95,857.44 L388.20,857.45 L388.45,857.47 L388.70,857.48 L388.95,857.48 L389.20,857.49 L389.45,857.49 L389.70,857.49 L389.95,857.48 L390.20,857.45 L390.45,857.38 L390.70,857.24 L390.95,856.96 L391.20,856.43 L391.45,855.51 L391.70,853.94 L391.95,851.47 L392.20,847.76 L392.45,842.54 L392.70,835.62 L392.95,827.04 L393.20,817.13 L393.45,806.59 L393.70,796.38 L393.95,787.66 L394.20,781.55 L394.45,778.88 L394.70,779.56 L394.95,782.56 L395.20,787.60 L395.45,794.24 L395.70,801.95 L395.95,810.18 L396.20,818.39 L396.45,826.14 L396.70,833.10 L396.95,839.08 L397.20,844.01 L397.45,847.92 L397.70,850.89 L397.95,853.08 L398.20,854.63 L398.45,855.70 L398.70,856.40 L398.95,856.85 L399.20,857.12 L399.45,857.29 L399.70,857.39 L399.95,857.44 L400.20,857.47 L400.45,857.49 L400.70,857.50 L400.95,857.50 L401.20,857.50 L401.45,857.51 L401.70,857.51 L401.95,857.51 L402.20,857.51 L402.45,857.51 L402.70,857.52 L402.95,857.52 L403.20,857.52 L403.45,857.52 L403.70,857.53 L403.95,857.53 L404.20,857.53 L404.45,857.54 L404.70,857.54 L404.95,857.54 L405.20,857.54 L405.45,857.55 L405.70,857.55 L405.95,857.56 L406.20,857.56 L406.45,857.56 L406.70,857.57 L406.95,857.57 L407.20,857.57 L407.45,857.58 L407.70,857.58 L407.95,857.59 L408.20,857.59 L408.45,857.60 L408.70,857.60 L408.95,857.60 L409.20,857.61 L409.45,857.61 L409.70,857.62 L409.95,857.62 L410.20,857.63 L410.45,857.63 L410.70,857.64 L410.95,857.64 L411.20,857.65 L411.45,857.65 L411.70,857.66 L411.95,857.66 L412.20,857.66 L412.45,857.67 L412.70,857.67 L412.95,857.68 L413.20,857.68 L413.45,857.69 L413.70,857.69 L413.95,857.70 L414.20,857.70 L414.45,857.71 L414.70,857.71 L414.95,857.72 L415.20,857.72 L415.45,857.73 L415.70,857.73 L415.95,857.74 L416.20,857.74 L416.45,857.74 L416.70,857.75 L416.95,857.75 L417.20,857.76 L417.45,857.76 L417.70,857.77 L417.95,857.77 L418.20,857.77 L418.45,857.78 L418.70,857.78 L418.95,857.79 L419.20,857.79 L419.45,857.79 L419.70,857.80 L419.95,857.80 L420.20,857.80 L420.45,857.81 L420.70,857.81 L420.95,857.81 L421.20,857.82 L421.45,857.82 L421.70,857.82 L421.95,857.83 L422.20,857.83 L422.45,857.83 L422.70,857.84 L422.95,857.84 L423.20,857.84 L423.45,857.85 L423.70,857.85 L423.95,857.85 L424.20,857.86 L424.45,857.86 L424.70,857.86 L424.95,857.87 L425.20,857.87 L425.45,857.87 L425.70,857.87 L425.95,857.88 L426.20,857.88 L426.45,857.88 L426.70,857.88 L426.95,857.87 L427.20,857.85 L427.45,857.83 L427.70,857.78 L427.95,857.70 L428.20,857.58 L428.45,857.40 L428.70,857.12 L428.95,856.72 L429.20,856.17 L429.45,855.41 L429.70,854.41 L429.95,853.13 L430.20,851.53 L430.45,849.59 L430.70,847.33 L430.95,844.76 L431.20,841.96 L431.45,839.02 L431.70,836.06 L431.95,833.24 L432.20,830.71 L432.45,828.62 L432.70,827.12 L432.95,826.31 L433.20,826.21 L433.45,826.63 L433.70,827.49 L433.95,828.76 L434.20,830.38 L434.45,832.28 L434.70,834.41 L434.95,836.67 L435.20,838.99 L435.45,841.31 L435.70,843.56 L435.95,845.69 L436.20,847.65 L436.45,849.43 L436.70,851.01 L436.95,852.38 L437.20,853.55 L437.45,854.54 L437.70,855.34 L437.95,855.99 L438.20,856.51 L438.45,856.92 L438.70,857.23 L438.95,857.46 L439.20,857.64 L439.45,857.77 L439.70,857.86 L439.95,857.93 L440.20,857.98 L440.45,858.01 L440.70,858.04 L440.95,858.05 L441.20,858.06 L441.45,858.07 L441.70,858.08 L441.95,858.09 L442.20,858.09 L442.45,858.09 L442.70,858.10 L442.95,858.10 L443.20,858.11 L443.45,858.11 L443.70,858.11 L443.95,858.12 L444.20,858.12 L444.45,858.12 L444.70,858.12 L444.95,858.13 L445.20,858.13 L445.45,858.13 L445.70,858.14 L445.95,858.14 L446.20,858.14 L446.45,858.15 L446.70,858.15 L446.95,858.15 L447.20,858.16 L447.45,858.16 L447.70,858.16 L447.95,858.17 L448.20,858.17 L448.45,858.17 L448.70,858.18 L448.95,858.18 L449.20,858.18 L449.45,858.19 L449.70,858.19 L449.95,858.19 L450.20,858.20 L450.45,858.20 L450.70,858.20 L450.95,858.20 L451.20,858.21 L451.45,858.21 L451.70,858.21 L451.95,858.22 L452.20,858.22 L452.45,858.22 L452.70,858.23 L452.95,858.23 L453.20,858.23 L453.45,858.24 L453.70,858.24 L453.95,858.24 L454.20,858.25 L454.45,858.25 L454.70,858.25 L454.95,858.26 L455.20,858.26 L455.45,858.26 L455.70,858.26 L455.95,858.27 L456.20,858.27 L456.45,858.27 L456.70,858.26 L456.95,858.24 L457.20,858.19 L457.45,858.11 L457.70,857.96 L457.95,857.69 L458.20,857.28 L458.45,856.63 L458.70,855.71 L458.95,854.45 L459.20,852.83 L459.45,850.87 L459.70,848.66 L459.95,846.35 L460.20,844.15 L460.45,842.30 L460.70,841.01 L460.95,840.45 L461.20,840.59 L461.45,841.23 L461.70,842.30 L461.95,843.72 L462.20,845.38 L462.45,847.17 L462.70,848.98 L462.95,850.71 L463.20,852.30 L463.45,853.69 L463.70,854.86 L463.95,855.81 L464.20,856.56 L464.45,857.13 L464.70,857.54 L464.95,857.84 L465.20,858.04 L465.45,858.17 L465.70,858.26 L465.95,858.32 L466.20,858.35 L466.45,858.38 L466.70,858.39 L466.95,858.40 L467.20,858.41 L467.45,858.41 L467.70,858.41 L467.95,858.42 L468.20,858.42 L468.45,858.42 L468.70,858.43 L468.95,858.43 L469.20,858.43 L469.45,858.44 L469.70,858.44 L469.95,858.44 L470.20,858.45 L470.45,858.45 L470.70,858.45 L470.95,858.45 L471.20,858.46 L471.45,858.46 L471.70,858.46 L471.95,858.47 L472.20,858.47 L472.45,858.47 L472.70,858.48 L472.95,858.48 L473.20,858.48 L473.45,858.48 L473.70,858.49 L473.95,858.49 L474.20,858.49 L474.45,858.50 L474.70,858.50 L474.95,858.50 L475.20,858.51 L475.45,858.51 L475.70,858.51 L475.95,858.51 L476.20,858.52 L476.45,858.52 L476.70,858.52 L476.95,858.53 L477.20,858.53 L477.45,858.53 L477.70,858.54 L477.95,858.54 L478.20,858.54 L478.45,858.54 L478.70,858.55 L478.95,858.55 L479.20,858.55 L479.45,858.56 L479.70,858.56 L479.95,858.56 L480.20,858.57 L480.45,858.57 L480.70,858.57 L480.95,858.57 L481.20,858.58 L481.45,858.58 L481.70,858.58 L481.95,858.59 L482.20,858.59 L482.45,858.59 L482.70,858.60 L482.95,858.60 L483.20,858.60 L483.45,858.60 L483.70,858.61 L483.95,858.61 L484.20,858.61 L484.45,858.62 L484.70,858.62 L484.95,858.62 L485.20,858.62 L485.45,858.63 L485.70,858.63 L485.95,858.63 L486.20,858.64 L486.45,858.64 L486.70,858.64 L486.95,858.64 L487.20,858.65 L487.45,858.65 L487.70,858.65 L487.95,858.66 L488.20,858.66 L488.45,858.66 L488.70,858.66 L488.95,858.67 L489.20,858.67 L489.45,858.67 L489.70,858.68 L489.95,858.68 L490.20,858.68 L490.45,858.69 L490.70,858.69 L490.95,858.69 L491.20,858.69 L491.45,858.70 L491.70,858.70 L491.95,858.70 L492.20,858.71 L492.45,858.71 L492.70,858.71 L492.95,858.71 L493.20,858.72 L493.45,858.72 L493.70,858.72 L493.95,858.72 L494.20,858.73 L494.45,858.73 L494.70,858.73 L494.95,858.74 L495.20,858.74 L495.45,858.74 L495.70,858.74 L495.95,858.75 L496.20,858.75 L496.45,858.75 L496.70,858.76 L496.95,858.76 L497.20,858.76 L497.45,858.76 L497.70,858.77 L497.95,858.77 L498.20,858.77 L498.45,858.78 L498.70,858.78 L498.95,858.78 L499.20,858.78 L499.45,858.79 L499.70,858.79 L499.95,858.79 L500.20,858.79 L500.45,858.80 L500.70,858.80 L500.95,858.80 L501.20,858.81 L501.45,858.81 L501.70,858.81 L501.95,858.81 L502.20,858.82 L502.45,858.82 L502.70,858.82 L502.95,858.83 L503.20,858.83 L503.45,858.83 L503.70,858.83 L503.95,858.84 L504.20,858.84 L504.45,858.84 L504.70,858.84 L504.95,858.85 L505.20,858.85 L505.45,858.85 L505.70,858.86 L505.95,858.86 L506.20,858.86 L506.45,858.86 L506.70,858.87 L506.95,858.87 L507.20,858.87 L507.45,858.87 L507.70,858.88 L507.95,858.88 L508.20,858.88 L508.45,858.88 L508.70,858.89 L508.95,858.89 L509.20,858.89 L509.45,858.90 L509.70,858.90 L509.95,858.90 L510.20,858.90 L510.45,858.91 L510.70,858.91 L510.95,858.91 L511.20,858.91 L511.45,858.92 L511.70,858.92 L511.95,858.92 L512.20,858.92 L512.45,858.93 L512.70,858.93 L512.95,858.93 L513.20,858.93 L513.45,858.94 L513.70,858.94 L513.95,858.94 L514.20,858.95 L514.45,858.95 L514.70,858.95 L514.95,858.95 L515.20,858.96 L515.45,858.96 L515.70,858.96 L515.95,858.96 L516.20,858.97 L516.45,858.97 L516.70,858.97 L516.95,858.97 L517.20,858.98 L517.45,858.98 L517.70,858.98 L517.95,858.98 L518.20,858.99 L518.45,858.99 L518.70,858.99 L518.95,858.99 L519.20,859.00 L519.45,859.00" fill="none" stroke="#2f3988" stroke-width="1.6" stroke-linejoin="round" />
<path d="M347.70,700.00 L347.95,700.00 L348.20,700.00 L348.45,700.00 L348.70,700.00 L348.95,700.00 L349.20,700.00 L349.45,700.00 L349.70,700.00 L349.95,700.00 L350.20,700.00 L350.45,700.00 L350.70,700.00 L350.95,700.00 L351.20,700.00 L351.45,700.00 L351.70,701.89 L351.95,717.78 L352.20,736.44 L352.45,745.49 L352.70,752.23 L352.95,758.14 L353.20,763.32 L353.45,767.88 L353.70,771.92 L353.95,775.55 L354.20,778.87 L354.45,781.98 L354.70,784.99 L354.95,787.85 L355.20,790.54 L355.45,793.07 L355.70,795.46 L355.95,797.71 L356.20,799.84 L356.45,801.85 L356.70,803.76 L356.95,805.57 L357.20,807.29 L357.45,808.94 L357.70,810.53 L357.95,812.08 L358.20,813.58 L358.45,815.05 L358.70,816.46 L358.95,817.82 L359.20,819.11 L359.45,820.34 L359.70,821.49 L359.95,822.55 L360.20,823.53 L360.45,824.42 L360.70,825.20 L360.95,825.92 L361.20,826.62 L361.45,827.29 L361.70,827.94 L361.95,828.56 L362.20,829.16 L362.45,829.73 L362.70,830.28 L362.95,830.80 L363.20,831.29 L363.45,831.76 L363.70,832.21 L363.95,832.62 L364.20,833.01 L364.45,833.38 L364.70,833.71 L364.95,834.02 L365.20,834.30 L365.45,834.55 L365.70,834.79 L365.95,835.01 L366.20,835.23 L366.45,835.42 L366.70,835.60 L366.95,835.74 L367.20,835.83 L367.45,835.85 L367.70,835.79 L367.95,835.63 L368.20,835.41 L368.45,835.19 L368.70,835.05 L368.95,835.06 L369.20,835.25 L369.45,835.61 L369.70,836.09 L369.95,836.59 L370.20,837.05 L370.45,837.42 L370.70,837.67 L370.95,837.81 L371.20,837.83 L371.45,837.76 L371.70,837.63 L371.95,837.50 L372.20,837.42 L372.45,837.45 L372.70,837.62 L372.95,837.92 L373.20,838.30 L373.45,838.71 L373.70,839.08 L373.95,839.40 L374.20,839.65 L374.45,839.84 L374.70,840.00 L374.95,840.12 L375.20,840.24 L375.45,840.34 L375.70,840.45 L375.95,840.54 L376.20,840.64 L376.45,840.73 L376.70,840.83 L376.95,840.92 L377.20,841.01 L377.45,841.10 L377.70,841.20 L377.95,841.28 L378.20,841.37 L378.45,841.44 L378.70,841.51 L378.95,841.55 L379.20,841.58 L379.45,841.58 L379.70,841.57 L379.95,841.53 L380.20,841.49 L380.45,841.46 L380.70,841.46 L380.95,841.50 L381.20,841.58 L381.45,841.71 L381.70,841.87 L381.95,842.05 L382.20,842.23 L382.45,842.39 L382.70,842.53 L382.95,842.65 L383.20,842.74 L383.45,842.81 L383.70,842.87 L383.95,842.91 L384.20,842.94 L384.45,842.97 L384.70,843.00 L384.95,843.03 L385.20,843.06 L385.45,843.08 L385.70,843.11 L385.95,843.13 L386.20,843.15 L386.45,843.18 L386.70,843.20 L386.95,843.22 L387.20,843.24 L387.45,843.26 L387.70,843.28 L387.95,843.30 L388.20,843.31 L388.45,843.33 L388.70,843.35 L388.95,843.37 L389.20,843.38 L389.45,843.40 L389.70,843.41 L389.95,843.43 L390.20,843.44 L390.45,843.46 L390.70,843.47 L390.95,843.49 L391.20,843.50 L391.45,843.52 L391.70,843.53 L391.95,843.55 L392.20,843.56 L392.45,843.58 L392.70,843.59 L392.95,843.60 L393.20,843.62 L393.45,843.63 L393.70,843.65 L393.95,843.67 L394.20,843.68 L394.45,843.70 L394.70,843.71 L394.95,843.73 L395.20,843.75 L395.45,843.76 L395.70,843.77 L395.95,843.78 L396.20,843.77 L396.45,843.73 L396.70,843.61 L396.95,843.36 L397.20,842.87 L397.45,841.96 L397.70,840.38 L397.95,837.80 L398.20,833.84 L398.45,828.11 L398.70,820.32 L398.95,810.39 L399.20,798.59 L399.45,785.59 L399.70,772.48 L399.95,760.66 L400.20,751.56 L400.45,746.41 L400.70,745.79 L400.95,748.45 L401.20,753.81 L401.45,761.42 L401.70,770.64 L401.95,780.79 L402.20,791.18 L402.45,801.19 L402.70,810.36 L402.95,818.38 L403.20,825.09 L403.45,830.50 L403.70,834.69 L403.95,837.81 L404.20,840.06 L404.45,841.63 L404.70,842.68 L404.95,843.36 L405.20,843.79 L405.45,844.05 L405.70,844.21 L405.95,844.30 L406.20,844.35 L406.45,844.37 L406.70,844.39 L406.95,844.39 L407.20,844.40 L407.45,844.40 L407.70,844.40 L407.95,844.40 L408.20,844.40 L408.45,844.40 L408.70,844.40 L408.95,844.40 L409.20,844.40 L409.45,844.40 L409.70,844.40 L409.95,844.40 L410.20,844.40 L410.45,844.40 L410.70,844.40 L410.95,844.40 L411.20,844.40 L411.45,844.40 L411.70,844.40 L411.95,844.40 L412.20,844.40 L412.45,844.40 L412.70,844.40 L412.95,844.40 L413.20,844.40 L413.45,844.40 L413.70,844.40 L413.95,844.40 L414.20,844.40 L414.45,844.40 L414.70,844.40 L414.95,844.40 L415.20,844.40 L415.45,844.40 L415.70,844.40 L415.95,844.40 L416.20,844.40 L416.45,844.40 L416.70,844.40 L416.95,844.40 L417.20,844.40 L417.45,844.40 L417.70,844.40 L417.95,844.40 L418.20,844.40 L418.45,844.40 L418.70,844.40 L418.95,844.40 L419.20,844.40 L419.45,844.40 L419.70,844.40 L419.95,844.40 L420.20,844.40 L420.45,844.40 L420.70,844.40 L420.95,844.40 L421.20,844.40 L421.45,844.40 L421.70,844.40 L421.95,844.40 L422.20,844.40 L422.45,844.40 L422.70,844.40 L422.95,844.40 L423.20,844.40 L423.45,844.40 L423.70,844.40 L423.95,844.40 L424.20,844.40 L424.45,844.40 L424.70,844.40 L424.95,844.40 L425.20,844.40 L425.45,844.40 L425.70,844.40 L425.95,844.40 L426.20,844.40 L426.45,844.41 L426.70,844.41 L426.95,844.41 L427.20,844.41 L427.45,844.41 L427.70,844.41 L427.95,844.41 L428.20,844.41 L428.45,844.41 L428.70,844.41 L428.95,844.41 L429.20,844.41 L429.45,844.41 L429.70,844.41 L429.95,844.41 L430.20,844.41 L430.45,844.41 L430.70,844.41 L430.95,844.41 L431.20,844.42 L431.45,844.42 L431.70,844.42 L431.95,844.42 L432.20,844.42 L432.45,844.42 L432.70,844.42 L432.95,844.42 L433.20,844.42 L433.45,844.42 L433.70,844.42 L433.95,844.41 L434.20,844.40 L434.45,844.39 L434.70,844.36 L434.95,844.32 L435.20,844.25 L435.45,844.13 L435.70,843.96 L435.95,843.70 L436.20,843.33 L436.45,842.79 L436.70,842.06 L436.95,841.06 L437.20,839.76 L437.45,838.10 L437.70,836.03 L437.95,833.55 L438.20,830.64 L438.45,827.35 L438.70,823.74 L438.95,819.92 L439.20,816.05 L439.45,812.31 L439.70,808.88 L439.95,805.96 L440.20,803.73 L440.45,802.33 L440.70,801.85 L440.95,802.15 L441.20,803.01 L441.45,804.42 L441.70,806.31 L441.95,808.61 L442.20,811.23 L442.45,814.09 L442.70,817.08 L442.95,820.11 L443.20,823.11 L443.45,825.99 L443.70,828.71 L443.95,831.21 L444.20,833.46 L444.45,835.46 L444.70,837.20 L444.95,838.68 L445.20,839.93 L445.45,840.95 L445.70,841.79 L445.95,842.45 L446.20,842.98 L446.45,843.38 L446.70,843.69 L446.95,843.92 L447.20,844.09 L447.45,844.21 L447.70,844.30 L447.95,844.37 L448.20,844.41 L448.45,844.44 L448.70,844.46 L448.95,844.48 L449.20,844.49 L449.45,844.50 L449.70,844.50 L449.95,844.50 L450.20,844.51 L450.45,844.51 L450.70,844.51 L450.95,844.51 L451.20,844.52 L451.45,844.52 L451.70,844.52 L451.95,844.52 L452.20,844.52 L452.45,844.53 L452.70,844.53 L452.95,844.53 L453.20,844.53 L453.45,844.53 L453.70,844.54 L453.95,844.54 L454.20,844.54 L454.45,844.54 L454.70,844.54 L454.95,844.55 L455.20,844.55 L455.45,844.55 L455.70,844.55 L455.95,844.55 L456.20,844.56 L456.45,844.56 L456.70,844.56 L456.95,844.56 L457.20,844.57 L457.45,844.57 L457.70,844.57 L457.95,844.57 L458.20,844.57 L458.45,844.58 L458.70,844.58 L458.95,844.58 L459.20,844.58 L459.45,844.59 L459.70,844.59 L459.95,844.59 L460.20,844.59 L460.45,844.59 L460.70,844.60 L460.95,844.60 L461.20,844.60 L461.45,844.60 L461.70,844.60 L461.95,844.59 L462.20,844.57 L462.45,844.53 L462.70,844.45 L462.95,844.29 L463.20,844.00 L463.45,843.51 L463.70,842.73 L463.95,841.54 L464.20,839.82 L464.45,837.48 L464.70,834.47 L464.95,830.83 L465.20,826.73 L465.45,822.45 L465.70,818.37 L465.95,814.92 L466.20,812.53 L466.45,811.49 L466.70,811.75 L466.95,812.93 L467.20,814.91 L467.45,817.54 L467.70,820.61 L467.95,823.93 L468.20,827.28 L468.45,830.50 L468.70,833.44 L468.95,836.01 L469.20,838.19 L469.45,839.95 L469.70,841.33 L469.95,842.38 L470.20,843.14 L470.45,843.69 L470.70,844.06 L470.95,844.31 L471.20,844.47 L471.45,844.57 L471.70,844.64 L471.95,844.67 L472.20,844.70 L472.45,844.71 L472.70,844.72 L472.95,844.73 L473.20,844.73 L473.45,844.73 L473.70,844.74 L473.95,844.74 L474.20,844.74 L474.45,844.75 L474.70,844.75 L474.95,844.75 L475.20,844.76 L475.45,844.76 L475.70,844.76 L475.95,844.77 L476.20,844.77 L476.45,844.77 L476.70,844.78 L476.95,844.78 L477.20,844.78 L477.45,844.78 L477.70,844.79 L477.95,844.79 L478.20,844.79 L478.45,844.80 L478.70,844.80 L478.95,844.80 L479.20,844.81 L479.45,844.81 L479.70,844.81 L479.95,844.82 L480.20,844.82 L480.45,844.82 L480.70,844.83 L480.95,844.83 L481.20,844.83 L481.45,844.84 L481.70,844.84 L481.95,844.85 L482.20,844.85 L482.45,844.85 L482.70,844.86 L482.95,844.86 L483.20,844.86 L483.45,844.87 L483.70,844.87 L483.95,844.87 L484.20,844.88 L484.45,844.88 L484.70,844.88 L484.95,844.89 L485.20,844.89 L485.45,844.90 L485.70,844.90 L485.95,844.90 L486.20,844.91 L486.45,844.91 L486.70,844.91 L486.95,844.92 L487.20,844.92 L487.45,844.92 L487.70,844.93 L487.95,844.93 L488.20,844.94 L488.45,844.94 L488.70,844.94 L488.95,844.95 L489.20,844.95 L489.45,844.95 L489.70,844.96 L489.95,844.96 L490.20,844.97 L490.45,844.97 L490.70,844.97 L490.95,844.98 L491.20,844.98 L491.45,844.99 L491.70,844.99 L491.95,844.99 L492.20,845.00 L492.45,845.00 L492.70,845.01 L492.95,845.01 L493.20,845.01 L493.45,845.02 L493.70,845.02 L493.95,845.03 L494.20,845.03 L494.45,845.03 L494.70,845.04 L494.95,845.04 L495.20,845.05 L495.45,845.05 L495.70,845.05 L495.95,845.06 L496.20,845.06 L496.45,845.07 L496.70,845.07 L496.95,845.08 L497.20,845.08 L497.45,845.08 L497.70,845.09 L497.95,845.09 L498.20,845.10 L498.45,845.10 L498.70,845.11 L498.95,845.11 L499.20,845.11 L499.45,845.12 L499.70,845.12 L499.95,845.13 L500.20,845.13 L500.45,845.14 L500.70,845.14 L500.95,845.14 L501.20,845.15 L501.45,845.15 L501.70,845.16 L501.95,845.16 L502.20,845.17 L502.45,845.17 L502.70,845.17 L502.95,845.18 L503.20,845.18 L503.45,845.19 L503.70,845.19 L503.95,845.20 L504.20,845.20 L504.45,845.21 L504.70,845.21 L504.95,845.22 L505.20,845.22 L505.45,845.22 L505.70,845.23 L505.95,845.23 L506.20,845.24 L506.45,845.24 L506.70,845.25 L506.95,845.25 L507.20,845.26 L507.45,845.26 L507.70,845.27 L507.95,845.27 L508.20,845.28 L508.45,845.28 L508.70,845.29 L508.95,845.29 L509.20,845.29 L509.45,845.30 L509.70,845.30 L509.95,845.31 L510.20,845.31 L510.45,845.32 L510.70,845.32 L510.95,845.33 L511.20,845.33 L511.45,845.34 L511.70,845.34 L511.95,845.35 L512.20,845.35 L512.45,845.36 L512.70,845.36 L512.95,845.37 L513.20,845.37 L513.45,845.38 L513.70,845.38 L513.95,845.39 L514.20,845.39 L514.45,845.40 L514.70,845.40 L514.95,845.41 L515.20,845.41 L515.45,845.42 L515.70,845.42 L515.95,845.43 L516.20,845.43 L516.45,845.44 L516.70,845.44 L516.95,845.45 L517.20,845.45 L517.45,845.46 L517.70,845.46 L517.95,845.47 L518.20,845.47 L518.45,845.48 L518.70,845.48 L518.95,845.49 L519.20,845.49 L519.45,845.50" fill="none" stroke="#10723b" stroke-width="1.6" stroke-linejoin="round" />
<path d="M347.70,781.00 L347.95,772.48 L348.20,763.63 L348.45,754.99 L348.70,746.00 L348.95,724.72 L349.20,700.00 L349.45,700.00 L349.70,700.00 L349.95,700.00 L350.20,700.00 L350.45,700.00 L350.70,700.00 L350.95,700.00 L351.20,700.00 L351.45,700.00 L351.70,700.00 L351.95,700.00 L352.20,700.00 L352.45,700.00 L352.70,700.00 L352.95,700.00 L353.20,700.00 L353.45,700.00 L353.70,700.00 L353.95,700.00 L354.20,700.00 L354.45,700.00 L354.70,700.00 L354.95,700.00 L355.20,700.00 L355.45,703.02 L355.70,717.16 L355.95,733.91 L356.20,744.27 L356.45,751.80 L356.70,758.47 L356.95,764.32 L357.20,769.41 L357.45,773.79 L357.70,777.54 L357.95,781.01 L358.20,784.27 L358.45,787.34 L358.70,790.21 L358.95,792.90 L359.20,795.40 L359.45,797.72 L359.70,799.87 L359.95,801.85 L360.20,803.66 L360.45,805.31 L360.70,806.80 L360.95,808.17 L361.20,809.46 L361.45,810.66 L361.70,811.79 L361.95,812.85 L362.20,813.85 L362.45,814.79 L362.70,815.67 L362.95,816.51 L363.20,817.31 L363.45,818.08 L363.70,818.81 L363.95,819.53 L364.20,820.24 L364.45,820.95 L364.70,821.64 L364.95,822.31 L365.20,822.96 L365.45,823.56 L365.70,824.13 L365.95,824.64 L366.20,825.10 L366.45,825.49 L366.70,825.80 L366.95,826.04 L367.20,826.25 L367.45,826.45 L367.70,826.63 L367.95,826.81 L368.20,826.98 L368.45,827.14 L368.70,827.29 L368.95,827.43 L369.20,827.56 L369.45,827.68 L369.70,827.79 L369.95,827.89 L370.20,827.98 L370.45,828.06 L370.70,828.13 L370.95,828.20 L371.20,828.25 L371.45,828.28 L371.70,828.30 L371.95,828.30 L372.20,828.27 L372.45,828.19 L372.70,828.05 L372.95,827.84 L373.20,827.59 L373.45,827.33 L373.70,827.14 L373.95,827.06 L374.20,827.12 L374.45,827.31 L374.70,827.58 L374.95,827.88 L375.20,828.14 L375.45,828.32 L375.70,828.43 L375.95,828.45 L376.20,828.39 L376.45,828.27 L376.70,828.10 L376.95,827.94 L377.20,827.81 L377.45,827.75 L377.70,827.80 L377.95,827.93 L378.20,828.11 L378.45,828.32 L378.70,828.50 L378.95,828.65 L379.20,828.76 L379.45,828.83 L379.70,828.88 L379.95,828.91 L380.20,828.94 L380.45,828.97 L380.70,829.00 L380.95,829.03 L381.20,829.07 L381.45,829.11 L381.70,829.15 L381.95,829.20 L382.20,829.25 L382.45,829.31 L382.70,829.36 L382.95,829.42 L383.20,829.49 L383.45,829.55 L383.70,829.62 L383.95,829.68 L384.20,829.75 L384.45,829.81 L384.70,829.88 L384.95,829.95 L385.20,830.01 L385.45,830.08 L385.70,830.14 L385.95,830.20 L386.20,830.26 L386.45,830.31 L386.70,830.36 L386.95,830.41 L387.20,830.45 L387.45,830.49 L387.70,830.53 L387.95,830.56 L388.20,830.58 L388.45,830.60 L388.70,830.62 L388.95,830.64 L389.20,830.65 L389.45,830.67 L389.70,830.69 L389.95,830.70 L390.20,830.72 L390.45,830.74 L390.70,830.75 L390.95,830.77 L391.20,830.78 L391.45,830.79 L391.70,830.80 L391.95,830.81 L392.20,830.81 L392.45,830.80 L392.70,830.79 L392.95,830.77 L393.20,830.74 L393.45,830.70 L393.70,830.65 L393.95,830.60 L394.20,830.55 L394.45,830.52 L394.70,830.49 L394.95,830.49 L395.20,830.51 L395.45,830.55 L395.70,830.61 L395.95,830.68 L396.20,830.75 L396.45,830.82 L396.70,830.89 L396.95,830.95 L397.20,831.01 L397.45,831.05 L397.70,831.08 L397.95,831.11 L398.20,831.13 L398.45,831.15 L398.70,831.16 L398.95,831.17 L399.20,831.18 L399.45,831.19 L399.70,831.20 L399.95,831.21 L400.20,831.22 L400.45,831.23 L400.70,831.24 L400.95,831.25 L401.20,831.26 L401.45,831.27 L401.70,831.28 L401.95,831.29 L402.20,831.30 L402.45,831.31 L402.70,831.31 L402.95,831.32 L403.20,831.33 L403.45,831.34 L403.70,831.35 L403.95,831.35 L404.20,831.36 L404.45,831.37 L404.70,831.38 L404.95,831.39 L405.20,831.39 L405.45,831.40 L405.70,831.41 L405.95,831.41 L406.20,831.42 L406.45,831.43 L406.70,831.43 L406.95,831.44 L407.20,831.45 L407.45,831.45 L407.70,831.46 L407.95,831.47 L408.20,831.47 L408.45,831.48 L408.70,831.49 L408.95,831.49 L409.20,831.50 L409.45,831.50 L409.70,831.51 L409.95,831.51 L410.20,831.52 L410.45,831.53 L410.70,831.53 L410.95,831.54 L411.20,831.54 L411.45,831.55 L411.70,831.55 L411.95,831.56 L412.20,831.56 L412.45,831.57 L412.70,831.57 L412.95,831.58 L413.20,831.58 L413.45,831.59 L413.70,831.59 L413.95,831.60 L414.20,831.60 L414.45,831.61 L414.70,831.61 L414.95,831.62 L415.20,831.62 L415.45,831.62 L415.70,831.63 L415.95,831.63 L416.20,831.64 L416.45,831.64 L416.70,831.65 L416.95,831.65 L417.20,831.65 L417.45,831.66 L417.70,831.66 L417.95,831.67 L418.20,831.67 L418.45,831.68 L418.70,831.68 L418.95,831.68 L419.20,831.69 L419.45,831.69 L419.70,831.70 L419.95,831.70 L420.20,831.70 L420.45,831.71 L420.70,831.71 L420.95,831.71 L421.20,831.72 L421.45,831.72 L421.70,831.73 L421.95,831.73 L422.20,831.73 L422.45,831.74 L422.70,831.74 L422.95,831.74 L423.20,831.75 L423.45,831.75 L423.70,831.75 L423.95,831.76 L424.20,831.76 L424.45,831.76 L424.70,831.77 L424.95,831.77 L425.20,831.77 L425.45,831.77 L425.70,831.78 L425.95,831.78 L426.20,831.78 L426.45,831.79 L426.70,831.79 L426.95,831.79 L427.20,831.79 L427.45,831.80 L427.70,831.80 L427.95,831.80 L428.20,831.80 L428.45,831.81 L428.70,831.81 L428.95,831.81 L429.20,831.81 L429.45,831.82 L429.70,831.82 L429.95,831.82 L430.20,831.82 L430.45,831.83 L430.70,831.83 L430.95,831.83 L431.20,831.83 L431.45,831.83 L431.70,831.84 L431.95,831.84 L432.20,831.84 L432.45,831.84 L432.70,831.85 L432.95,831.85 L433.20,831.85 L433.45,831.85 L433.70,831.85 L433.95,831.86 L434.20,831.86 L434.45,831.86 L434.70,831.86 L434.95,831.86 L435.20,831.87 L435.45,831.87 L435.70,831.87 L435.95,831.87 L436.20,831.87 L436.45,831.87 L436.70,831.88 L436.95,831.88 L437.20,831.88 L437.45,831.88 L437.70,831.88 L437.95,831.89 L438.20,831.89 L438.45,831.89 L438.70,831.89 L438.95,831.89 L439.20,831.89 L439.45,831.90 L439.70,831.90 L439.95,831.90 L440.20,831.90 L440.45,831.90 L440.70,831.90 L440.95,831.91 L441.20,831.91 L441.45,831.91 L441.70,831.91 L441.95,831.91 L442.20,831.91 L442.45,831.91 L442.70,831.91 L442.95,831.91 L443.20,831.90 L443.45,831.88 L443.70,831.85 L443.95,831.80 L444.20,831.72 L444.45,831.59 L444.70,831.38 L444.95,831.09 L445.20,830.66 L445.45,830.07 L445.70,829.27 L445.95,828.23 L446.20,826.93 L446.45,825.34 L446.70,823.48 L446.95,821.39 L447.20,819.12 L447.45,816.77 L447.70,814.46 L447.95,812.33 L448.20,810.53 L448.45,809.17 L448.70,808.37 L448.95,808.18 L449.20,808.45 L449.45,809.10 L449.70,810.09 L449.95,811.37 L450.20,812.90 L450.45,814.60 L450.70,816.41 L450.95,818.25 L451.20,820.08 L451.45,821.83 L451.70,823.46 L451.95,824.95 L452.20,826.27 L452.45,827.43 L452.70,828.41 L452.95,829.22 L453.20,829.89 L453.45,830.43 L453.70,830.85 L453.95,831.17 L454.20,831.42 L454.45,831.60 L454.70,831.74 L454.95,831.83 L455.20,831.90 L455.45,831.95 L455.70,831.98 L455.95,832.01 L456.20,832.02 L456.45,832.04 L456.70,832.04 L456.95,832.05 L457.20,832.06 L457.45,832.06 L457.70,832.06 L457.95,832.07 L458.20,832.07 L458.45,832.08 L458.70,832.08 L458.95,832.08 L459.20,832.09 L459.45,832.09 L459.70,832.10 L459.95,832.10 L460.20,832.10 L460.45,832.11 L460.70,832.11 L460.95,832.12 L461.20,832.12 L461.45,832.12 L461.70,832.13 L461.95,832.13 L462.20,832.14 L462.45,832.14 L462.70,832.15 L462.95,832.15 L463.20,832.16 L463.45,832.16 L463.70,832.17 L463.95,832.17 L464.20,832.18 L464.45,832.18 L464.70,832.19 L464.95,832.20 L465.20,832.20 L465.45,832.21 L465.70,832.21 L465.95,832.22 L466.20,832.23 L466.45,832.23 L466.70,832.24 L466.95,832.24 L467.20,832.25 L467.45,832.25 L467.70,832.25 L467.95,832.25 L468.20,832.22 L468.45,832.16 L468.70,832.04 L468.95,831.78 L469.20,831.31 L469.45,830.46 L469.70,829.05 L469.95,826.80 L470.20,823.41 L470.45,818.57 L470.70,812.05 L470.95,803.77 L471.20,793.90 L471.45,782.92 L471.70,771.65 L471.95,761.14 L472.20,752.53 L472.45,746.88 L472.70,744.91 L472.95,746.13 L473.20,749.69 L473.45,755.28 L473.70,762.48 L473.95,770.77 L474.20,779.57 L474.45,788.37 L474.70,796.72 L474.95,804.29 L475.20,810.88 L475.45,816.39 L475.70,820.83 L475.95,824.29 L476.20,826.89 L476.45,828.78 L476.70,830.11 L476.95,831.02 L477.20,831.63 L477.45,832.01 L477.70,832.25 L477.95,832.40 L478.20,832.47 L478.45,832.50 L478.70,832.50 L478.95,832.47 L479.20,832.43 L479.45,832.37 L479.70,832.31 L479.95,832.25 L480.20,832.21 L480.45,832.20 L480.70,832.22 L480.95,832.27 L481.20,832.34 L481.45,832.42 L481.70,832.51 L481.95,832.59 L482.20,832.66 L482.45,832.71 L482.70,832.75 L482.95,832.78 L483.20,832.81 L483.45,832.82 L483.70,832.84 L483.95,832.85 L484.20,832.86 L484.45,832.88 L484.70,832.89 L484.95,832.90 L485.20,832.91 L485.45,832.92 L485.70,832.93 L485.95,832.95 L486.20,832.96 L486.45,832.97 L486.70,832.98 L486.95,832.99 L487.20,833.01 L487.45,833.02 L487.70,833.03 L487.95,833.04 L488.20,833.06 L488.45,833.07 L488.70,833.08 L488.95,833.09 L489.20,833.11 L489.45,833.12 L489.70,833.13 L489.95,833.14 L490.20,833.16 L490.45,833.17 L490.70,833.18 L490.95,833.20 L491.20,833.21 L491.45,833.22 L491.70,833.24 L491.95,833.25 L492.20,833.26 L492.45,833.28 L492.70,833.29 L492.95,833.30 L493.20,833.32 L493.45,833.33 L493.70,833.34 L493.95,833.36 L494.20,833.37 L494.45,833.38 L494.70,833.40 L494.95,833.41 L495.20,833.43 L495.45,833.44 L495.70,833.45 L495.95,833.47 L496.20,833.48 L496.45,833.50 L496.70,833.51 L496.95,833.53 L497.20,833.54 L497.45,833.55 L497.70,833.57 L497.95,833.58 L498.20,833.60 L498.45,833.61 L498.70,833.63 L498.95,833.64 L499.20,833.66 L499.45,833.67 L499.70,833.69 L499.95,833.70 L500.20,833.72 L500.45,833.73 L500.70,833.75 L500.95,833.76 L501.20,833.78 L501.45,833.79 L501.70,833.81 L501.95,833.82 L502.20,833.84 L502.45,833.85 L502.70,833.87 L502.95,833.88 L503.20,833.90 L503.45,833.92 L503.70,833.93 L503.95,833.95 L504.20,833.96 L504.45,833.98 L504.70,833.99 L504.95,834.01 L505.20,834.03 L505.45,834.04 L505.70,834.06 L505.95,834.07 L506.20,834.09 L506.45,834.11 L506.70,834.12 L506.95,834.14 L507.20,834.15 L507.45,834.17 L507.70,834.19 L507.95,834.20 L508.20,834.22 L508.45,834.24 L508.70,834.25 L508.95,834.27 L509.20,834.29 L509.45,834.30 L509.70,834.32 L509.95,834.34 L510.20,834.35 L510.45,834.37 L510.70,834.39 L510.95,834.40 L511.20,834.42 L511.45,834.44 L511.70,834.45 L511.95,834.47 L512.20,834.49 L512.45,834.51 L512.70,834.52 L512.95,834.54 L513.20,834.56 L513.45,834.57 L513.70,834.59 L513.95,834.61 L514.20,834.63 L514.45,834.64 L514.70,834.66 L514.95,834.68 L515.20,834.70 L515.45,834.71 L515.70,834.73 L515.95,834.75 L516.20,834.77 L516.45,834.78 L516.70,834.80 L516.95,834.82 L517.20,834.84 L517.45,834.85 L517.70,834.87 L517.95,834.89 L518.20,834.91 L518.45,834.92 L518.70,834.94 L518.95,834.96 L519.20,834.98 L519.45,835.00" fill="none" stroke="#f07f30" stroke-width="1.6" stroke-linejoin="round" />
</g>
<line x1="388.10" y1="736.90" x2="388.10" y2="830.90" stroke="#231f20" stroke-width="1.4" stroke-dasharray="3.2,3.0"/>
<line x1="388.10" y1="830.90" x2="375.30" y2="859.00" stroke="#231f20" stroke-width="1.4" stroke-dasharray="3.2,4.0"/>
<line x1="414.50" y1="736.90" x2="414.50" y2="831.40" stroke="#231f20" stroke-width="1.4" stroke-dasharray="3.2,3.0"/>
<line x1="414.50" y1="831.40" x2="404.50" y2="859.00" stroke="#231f20" stroke-width="1.4" stroke-dasharray="3.2,4.0"/>
<line x1="459.20" y1="736.10" x2="459.20" y2="832.10" stroke="#231f20" stroke-width="1.4" stroke-dasharray="3.2,3.0"/>
<line x1="459.20" y1="832.10" x2="446.90" y2="859.00" stroke="#231f20" stroke-width="1.4" stroke-dasharray="3.2,4.0"/>
<line x1="483.70" y1="736.10" x2="483.70" y2="834.50" stroke="#231f20" stroke-width="1.4" stroke-dasharray="3.2,3.0"/>
<line x1="483.70" y1="834.50" x2="473.00" y2="859.00" stroke="#231f20" stroke-width="1.4" stroke-dasharray="3.2,4.0"/>
<line x1="347.70" y1="741.00" x2="519.50" y2="741.00" stroke="#231f20" stroke-width="1.3" />
<line x1="519.50" y1="741.00" x2="519.50" y2="864.10" stroke="#231f20" stroke-width="1.3" />
<line x1="347.70" y1="740.40" x2="347.70" y2="864.90" stroke="#231f20" stroke-width="1.6" />
<line x1="345.80" y1="864.10" x2="520.10" y2="864.10" stroke="#231f20" stroke-width="1.6" />
<line x1="340.20" y1="864.10" x2="347.70" y2="864.10" stroke="#231f20" stroke-width="1.6" />
<line x1="343.80" y1="853.81" x2="347.70" y2="853.81" stroke="#231f20" stroke-width="1.2" />
<line x1="343.80" y1="843.52" x2="347.70" y2="843.52" stroke="#231f20" stroke-width="1.2" />
<line x1="343.80" y1="833.23" x2="347.70" y2="833.23" stroke="#231f20" stroke-width="1.2" />
<line x1="343.80" y1="822.94" x2="347.70" y2="822.94" stroke="#231f20" stroke-width="1.2" />
<line x1="340.20" y1="812.65" x2="347.70" y2="812.65" stroke="#231f20" stroke-width="1.6" />
<line x1="343.80" y1="802.36" x2="347.70" y2="802.36" stroke="#231f20" stroke-width="1.2" />
<line x1="343.80" y1="792.07" x2="347.70" y2="792.07" stroke="#231f20" stroke-width="1.2" />
<line x1="343.80" y1="781.78" x2="347.70" y2="781.78" stroke="#231f20" stroke-width="1.2" />
<line x1="343.80" y1="771.49" x2="347.70" y2="771.49" stroke="#231f20" stroke-width="1.2" />
<line x1="340.20" y1="761.20" x2="347.70" y2="761.20" stroke="#231f20" stroke-width="1.6" />
<line x1="343.80" y1="750.91" x2="347.70" y2="750.91" stroke="#231f20" stroke-width="1.2" />
<line x1="343.80" y1="740.62" x2="347.70" y2="740.62" stroke="#231f20" stroke-width="1.2" />
<line x1="353.06" y1="864.10" x2="353.06" y2="866.90" stroke="#231f20" stroke-width="1.2" />
<line x1="363.30" y1="864.10" x2="363.30" y2="868.80" stroke="#231f20" stroke-width="1.6" />
<line x1="373.54" y1="864.10" x2="373.54" y2="866.90" stroke="#231f20" stroke-width="1.2" />
<line x1="383.78" y1="864.10" x2="383.78" y2="866.90" stroke="#231f20" stroke-width="1.2" />
<line x1="394.02" y1="864.10" x2="394.02" y2="866.90" stroke="#231f20" stroke-width="1.2" />
<line x1="404.26" y1="864.10" x2="404.26" y2="866.90" stroke="#231f20" stroke-width="1.2" />
<line x1="414.50" y1="864.10" x2="414.50" y2="868.80" stroke="#231f20" stroke-width="1.6" />
<line x1="424.74" y1="864.10" x2="424.74" y2="866.90" stroke="#231f20" stroke-width="1.2" />
<line x1="434.98" y1="864.10" x2="434.98" y2="866.90" stroke="#231f20" stroke-width="1.2" />
<line x1="445.22" y1="864.10" x2="445.22" y2="866.90" stroke="#231f20" stroke-width="1.2" />
<line x1="455.46" y1="864.10" x2="455.46" y2="866.90" stroke="#231f20" stroke-width="1.2" />
<line x1="465.70" y1="864.10" x2="465.70" y2="868.80" stroke="#231f20" stroke-width="1.6" />
<line x1="475.94" y1="864.10" x2="475.94" y2="866.90" stroke="#231f20" stroke-width="1.2" />
<line x1="486.18" y1="864.10" x2="486.18" y2="866.90" stroke="#231f20" stroke-width="1.2" />
<line x1="496.42" y1="864.10" x2="496.42" y2="866.90" stroke="#231f20" stroke-width="1.2" />
<line x1="506.66" y1="864.10" x2="506.66" y2="866.90" stroke="#231f20" stroke-width="1.2" />
<line x1="516.90" y1="864.10" x2="516.90" y2="868.80" stroke="#231f20" stroke-width="1.6" />
<line x1="345.80" y1="864.10" x2="345.80" y2="868.80" stroke="#231f20" stroke-width="1.6" />
<text x="338.00" y="766.40" font-size="14.5" text-anchor="end" >10</text>
<text x="338.00" y="817.85" font-size="14.5" text-anchor="end" >5</text>
<text x="338.00" y="869.30" font-size="14.5" text-anchor="end" >0</text>
<text x="363.30" y="881.90" font-size="14.5" text-anchor="middle" >20</text>
<text x="414.50" y="881.90" font-size="14.5" text-anchor="middle" >25</text>
<text x="465.70" y="881.90" font-size="14.5" text-anchor="middle" >30</text>
<text x="516.90" y="881.90" font-size="14.5" text-anchor="middle" >35</text>
<text x="454.30" y="896.50" font-size="14.5" text-anchor="middle" >Retention time [min]</text>
<text transform="translate(298.60,798.20) rotate(-90)" font-size="14.5" text-anchor="middle" >Absorbance [mAU]</text>
<text transform="translate(315.90,798.20) rotate(-90)" font-size="14.6" text-anchor="middle" >λ 254nM</text>
<text x="383.00" y="728.90" font-size="14.5" font-weight="bold" fill="#e81b30" >m<tspan font-size="9" dy="-5.8">2</tspan><tspan font-size="9" dx="0.1" dy="10.3">2</tspan><tspan dx="-1.0" dy="-4.5">G</tspan></text>
<text x="443.20" y="728.90" font-size="14.5" font-weight="bold" fill="#e81b30" >t6A peak</text>
<text x="527.20" y="818.90" font-size="14.2" font-weight="bold" >tRNA:</text>
<text x="526.60" y="836.80" font-size="13.7" fill="#f07f30" >Non-methylated</text>
<text x="526.50" y="850.60" font-size="14.3" fill="#10723b" >Methylated- batch 1</text>
<text x="526.50" y="864.10" font-size="14.3" fill="#2f3988" >Methylated- batch 2</text>
</svg></body></html>
